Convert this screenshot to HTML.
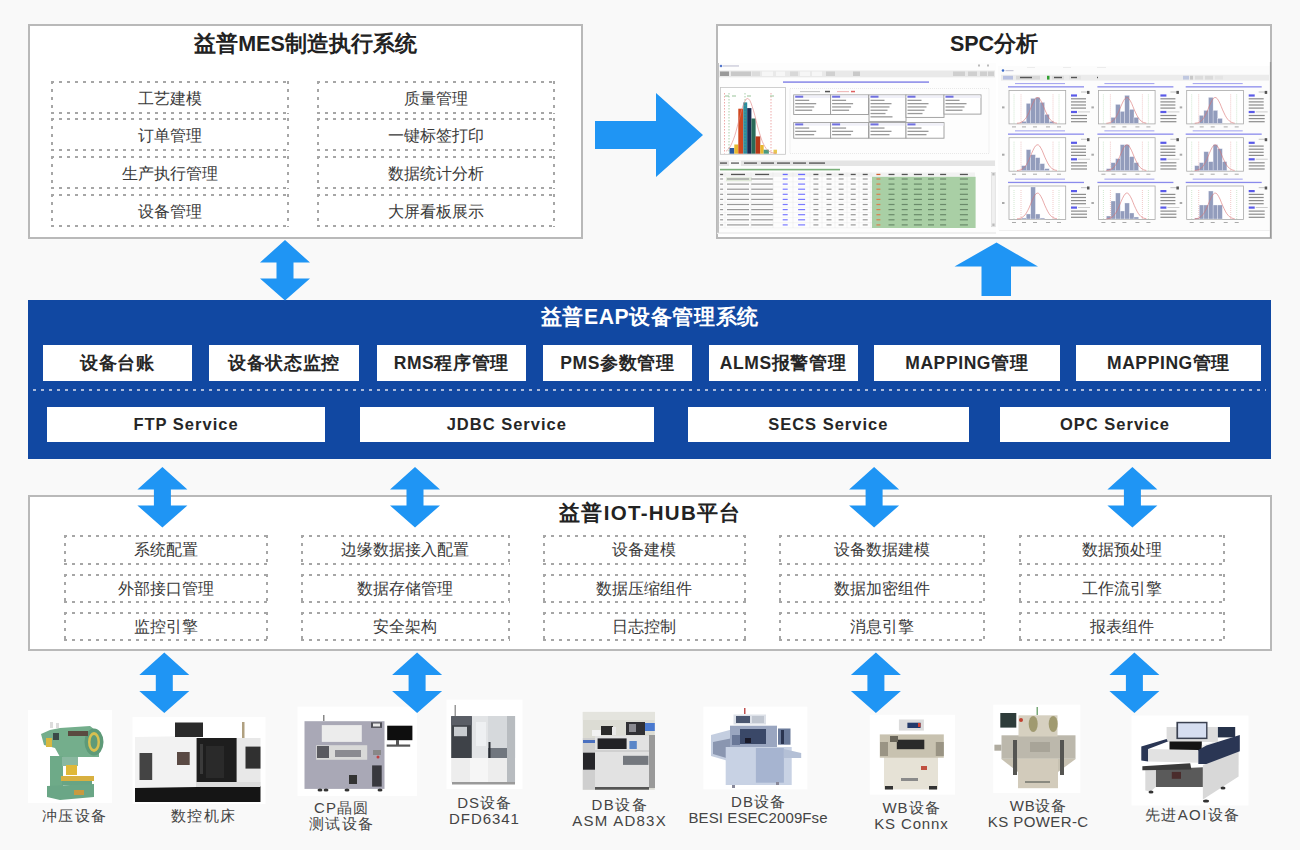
<!DOCTYPE html>
<html><head><meta charset="utf-8"><style>
*{box-sizing:border-box;margin:0;padding:0}
html,body{width:1300px;height:850px;overflow:hidden;background:#f9f9f9;font-family:"Liberation Sans",sans-serif;color:#333}
.a{position:absolute}
.box{position:absolute;background:#fff;border:2px solid #b9b9b9}
.ttl{position:absolute;left:0;right:0;text-align:center;font-weight:bold;color:#222;white-space:nowrap}
.dl{position:absolute;text-align:center;color:#3a3a3a;white-space:nowrap;background:repeating-linear-gradient(90deg,#a6a6a6 0 3px,transparent 3px 8px) left top/100% 2px no-repeat,repeating-linear-gradient(90deg,#a6a6a6 0 3px,transparent 3px 8px) left bottom/100% 2px no-repeat,repeating-linear-gradient(180deg,#a6a6a6 0 3px,transparent 3px 8px) left top/2px 100% no-repeat,repeating-linear-gradient(180deg,#a6a6a6 0 3px,transparent 3px 8px) right top/2px 100% no-repeat;}
.wb{position:absolute;background:#fff;text-align:center;font-weight:bold;color:#262626;white-space:nowrap}
.eap1{top:344.5px;height:36px;font-size:17.5px;line-height:37px;letter-spacing:0.6px}
.eap2{top:406.5px;height:35px;font-size:16.5px;line-height:34px;letter-spacing:1px}
.lbl{position:absolute;text-align:center;color:#444;font-size:15px;line-height:16px;white-space:nowrap}
svg{position:absolute;left:0;top:0;overflow:visible}
</style></head><body>
<div class="box" style="left:28px;top:24px;width:555px;height:215px"><div class="ttl" style="top:5px;font-size:21.5px;line-height:26px">益普MES制造执行系统</div></div>
<div class="dl" style="left:50.5px;top:80.5px;width:238px;height:33px;font-size:16px;line-height:35px">工艺建模</div>
<div class="dl" style="left:316.5px;top:80.5px;width:238px;height:33px;font-size:16px;line-height:35px">质量管理</div>
<div class="dl" style="left:50.5px;top:118.3px;width:238px;height:33px;font-size:16px;line-height:35px">订单管理</div>
<div class="dl" style="left:316.5px;top:118.3px;width:238px;height:33px;font-size:16px;line-height:35px">一键标签打印</div>
<div class="dl" style="left:50.5px;top:156.1px;width:238px;height:33px;font-size:16px;line-height:35px">生产执行管理</div>
<div class="dl" style="left:316.5px;top:156.1px;width:238px;height:33px;font-size:16px;line-height:35px">数据统计分析</div>
<div class="dl" style="left:50.5px;top:193.9px;width:238px;height:33px;font-size:16px;line-height:35px">设备管理</div>
<div class="dl" style="left:316.5px;top:193.9px;width:238px;height:33px;font-size:16px;line-height:35px">大屏看板展示</div>
<div class="box" style="left:716px;top:24px;width:556px;height:215px"><div class="ttl" style="top:5px;font-size:21.5px;line-height:26px">SPC分析</div></div>
<svg width="1300" height="850" style="filter:blur(0.3px)">
<rect x="717.0" y="63.0" width="279.0" height="171.0" fill="#fdfdfd" />
<line x1="718.0" y1="63.0" x2="718.0" y2="233.0" stroke="#9a9a9a" stroke-width="1.2" />
<circle cx="721" cy="66" r="1.3" fill="#5577cc"/>
<rect x="723.0" y="65.3" width="16.0" height="1.3" fill="#c8c8d8" />
<rect x="978.0" y="64.5" width="2.0" height="2.0" fill="#bbb" />
<rect x="987.0" y="64.5" width="2.0" height="2.0" fill="#bbb" />
<rect x="719.0" y="70.5" width="276.0" height="6.8" fill="#e9e9e9" />
<rect x="720.0" y="71.5" width="9.0" height="4.5" fill="#9a9a9a" />
<rect x="731.0" y="71.5" width="20.0" height="4.5" fill="#c8c8c8" />
<rect x="752.0" y="71.5" width="8.0" height="4.5" fill="#dcdcdc" />
<rect x="762.0" y="71.5" width="11.0" height="4.5" fill="#f6f6f6" />
<rect x="776.0" y="71.5" width="9.0" height="4.5" fill="#f6f6f6" />
<rect x="790.0" y="71.5" width="8.0" height="4.5" fill="#d8d8d8" />
<rect x="800.0" y="71.5" width="10.0" height="4.5" fill="#f6f6f6" />
<rect x="812.0" y="71.5" width="10.0" height="4.5" fill="#f6f6f6" />
<rect x="826.0" y="71.5" width="9.0" height="4.5" fill="#d0d0d0" />
<rect x="853.0" y="71.5" width="7.0" height="4.5" fill="#c9c9c9" />
<rect x="953.0" y="71.5" width="12.0" height="4.5" fill="#cfcfcf" />
<rect x="968.0" y="71.5" width="9.0" height="4.5" fill="#cfcfcf" />
<rect x="980.0" y="71.5" width="7.0" height="4.5" fill="#cfcfcf" />
<rect x="988.0" y="71.5" width="6.0" height="4.5" fill="#cfcfcf" />
<rect x="783.0" y="81.3" width="146.0" height="1.6" fill="#8d8de8" />
<rect x="720.5" y="87.5" width="65.0" height="66.8" fill="#fff" stroke="#c4c4c4" stroke-width="0.8"/>
<rect x="729.5" y="148.0" width="4.8" height="5.7" fill="#2a5aa0" />
<rect x="734.3" y="144.5" width="4.0" height="9.2" fill="#e8b830" />
<rect x="738.3" y="108.7" width="5.0" height="45.0" fill="#d04820" />
<rect x="743.3" y="102.4" width="3.9" height="51.3" fill="#2a8aa0" />
<rect x="747.2" y="108.1" width="4.2" height="45.6" fill="#1a2a50" />
<rect x="751.4" y="118.5" width="4.2" height="35.2" fill="#2a6a58" />
<rect x="755.6" y="136.4" width="4.7" height="17.3" fill="#b83818" />
<rect x="760.3" y="145.0" width="3.4" height="8.7" fill="#e8b830" />
<rect x="763.7" y="149.7" width="5.2" height="4.0" fill="#4a9a80" />
<rect x="773.5" y="149.7" width="3.5" height="4.0" fill="#e8c850" />
<line x1="724.5" y1="93.0" x2="724.5" y2="153.5" stroke="#e07070" stroke-width="0.6" stroke-dasharray="1.5,1.5"/>
<line x1="729.0" y1="93.0" x2="729.0" y2="153.5" stroke="#70b070" stroke-width="0.6" stroke-dasharray="1.5,1.5"/>
<line x1="771.0" y1="93.0" x2="771.0" y2="153.5" stroke="#e07070" stroke-width="0.6" stroke-dasharray="1.5,1.5"/>
<line x1="745.0" y1="93.0" x2="745.0" y2="153.5" stroke="#70b070" stroke-width="0.6" stroke-dasharray="1.5,1.5"/>
<polyline points="726.0,151.3 727.2,150.3 728.5,149.0 729.8,147.3 731.0,145.1 732.2,142.5 733.5,139.3 734.8,135.6 736.0,131.5 737.2,126.9 738.5,122.1 739.8,117.2 741.0,112.4 742.2,108.1 743.5,104.3 744.8,101.3 746.0,99.3 747.2,98.5 748.5,98.9 749.8,100.4 751.0,103.0 752.2,106.5 753.5,110.6 754.8,115.3 756.0,120.1 757.2,125.0 758.5,129.7 759.8,134.0 761.0,137.9 762.2,141.3 763.5,144.1 764.8,146.5 766.0,148.4 767.2,149.8 768.5,150.9 769.8,151.7 771.0,152.3 772.2,152.7 773.5,153.0 774.8,153.2 776.0,153.3" fill="none" stroke="#e08080" stroke-width="0.6"/>
<rect x="725.0" y="95.5" width="4.0" height="1.0" fill="#9ac49a" />
<rect x="732.0" y="95.5" width="4.0" height="1.0" fill="#9ac49a" />
<rect x="747.0" y="95.5" width="4.0" height="1.0" fill="#9ac49a" />
<rect x="770.0" y="95.5" width="4.0" height="1.0" fill="#9ac49a" />
<rect x="790.0" y="88.5" width="199.0" height="65.0" fill="none" stroke="#dedede" stroke-width="0.7" stroke-dasharray="1,1"/>
<rect x="800.0" y="91.3" width="20.0" height="0.8" fill="#b0b0b0" />
<rect x="825.0" y="90.8" width="5.0" height="1.5" fill="#555" />
<rect x="837.0" y="91.3" width="12.0" height="0.8" fill="#e8a0a0" />
<rect x="851.0" y="90.8" width="4.0" height="1.5" fill="#e06060" />
<rect x="793.7" y="94.9" width="37.0" height="19.6" fill="#fff" stroke="#9a9a9a" stroke-width="0.9"/>
<rect x="794.2" y="95.4" width="36.0" height="2.6" fill="#f0f0f8" />
<rect x="795.2" y="95.7" width="8.0" height="2.0" fill="#7070e0" />
<rect x="795.2" y="99.7" width="14.0" height="1.3" fill="#9a9a9a" />
<rect x="795.2" y="103.0" width="21.0" height="1.3" fill="#9a9a9a" />
<rect x="795.2" y="106.3" width="19.0" height="1.3" fill="#9a9a9a" />
<rect x="795.2" y="109.6" width="17.0" height="1.3" fill="#9a9a9a" />
<rect x="830.6" y="94.9" width="38.0" height="19.6" fill="#fff" stroke="#9a9a9a" stroke-width="0.9"/>
<rect x="831.1" y="95.4" width="37.0" height="2.6" fill="#f0f0f8" />
<rect x="832.1" y="95.7" width="8.0" height="2.0" fill="#7070e0" />
<rect x="832.1" y="99.7" width="14.0" height="1.3" fill="#9a9a9a" />
<rect x="832.1" y="103.0" width="21.0" height="1.3" fill="#9a9a9a" />
<rect x="832.1" y="106.3" width="19.0" height="1.3" fill="#9a9a9a" />
<rect x="832.1" y="109.6" width="17.0" height="1.3" fill="#9a9a9a" />
<rect x="869.0" y="94.9" width="37.0" height="26.5" fill="#fff" stroke="#9a9a9a" stroke-width="0.9"/>
<rect x="869.5" y="95.4" width="36.0" height="2.6" fill="#f0f0f8" />
<rect x="870.5" y="95.7" width="8.0" height="2.0" fill="#7070e0" />
<rect x="870.5" y="99.7" width="14.0" height="1.3" fill="#9a9a9a" />
<rect x="870.5" y="103.0" width="21.0" height="1.3" fill="#9a9a9a" />
<rect x="870.5" y="106.3" width="19.0" height="1.3" fill="#9a9a9a" />
<rect x="870.5" y="109.6" width="17.0" height="1.3" fill="#9a9a9a" />
<rect x="870.5" y="112.9" width="15.0" height="1.3" fill="#9a9a9a" />
<rect x="870.5" y="116.2" width="22.0" height="1.3" fill="#9a9a9a" />
<rect x="906.0" y="94.9" width="38.0" height="22.5" fill="#fff" stroke="#9a9a9a" stroke-width="0.9"/>
<rect x="906.5" y="95.4" width="37.0" height="2.6" fill="#f0f0f8" />
<rect x="907.5" y="95.7" width="8.0" height="2.0" fill="#7070e0" />
<rect x="907.5" y="99.7" width="14.0" height="1.3" fill="#9a9a9a" />
<rect x="907.5" y="103.0" width="21.0" height="1.3" fill="#9a9a9a" />
<rect x="907.5" y="106.3" width="19.0" height="1.3" fill="#9a9a9a" />
<rect x="907.5" y="109.6" width="17.0" height="1.3" fill="#9a9a9a" />
<rect x="907.5" y="112.9" width="15.0" height="1.3" fill="#9a9a9a" />
<rect x="944.0" y="94.9" width="37.0" height="19.2" fill="#fff" stroke="#9a9a9a" stroke-width="0.9"/>
<rect x="944.5" y="95.4" width="36.0" height="2.6" fill="#f0f0f8" />
<rect x="945.5" y="95.7" width="8.0" height="2.0" fill="#7070e0" />
<rect x="945.5" y="99.7" width="14.0" height="1.3" fill="#9a9a9a" />
<rect x="945.5" y="103.0" width="21.0" height="1.3" fill="#9a9a9a" />
<rect x="945.5" y="106.3" width="19.0" height="1.3" fill="#9a9a9a" />
<rect x="945.5" y="109.6" width="17.0" height="1.3" fill="#9a9a9a" />
<rect x="793.7" y="122.6" width="37.0" height="15.6" fill="#fff" stroke="#9a9a9a" stroke-width="0.9"/>
<rect x="794.2" y="123.1" width="36.0" height="2.6" fill="#f0f0f8" />
<rect x="795.2" y="123.4" width="8.0" height="2.0" fill="#7070e0" />
<rect x="795.2" y="127.4" width="14.0" height="1.3" fill="#9a9a9a" />
<rect x="795.2" y="130.7" width="21.0" height="1.3" fill="#9a9a9a" />
<rect x="795.2" y="134.0" width="19.0" height="1.3" fill="#9a9a9a" />
<rect x="830.6" y="122.6" width="38.0" height="15.6" fill="#fff" stroke="#9a9a9a" stroke-width="0.9"/>
<rect x="831.1" y="123.1" width="37.0" height="2.6" fill="#f0f0f8" />
<rect x="832.1" y="123.4" width="8.0" height="2.0" fill="#7070e0" />
<rect x="832.1" y="127.4" width="14.0" height="1.3" fill="#9a9a9a" />
<rect x="832.1" y="130.7" width="21.0" height="1.3" fill="#9a9a9a" />
<rect x="832.1" y="134.0" width="19.0" height="1.3" fill="#9a9a9a" />
<rect x="869.0" y="122.6" width="37.0" height="15.6" fill="#fff" stroke="#9a9a9a" stroke-width="0.9"/>
<rect x="869.5" y="123.1" width="36.0" height="2.6" fill="#f0f0f8" />
<rect x="870.5" y="123.4" width="8.0" height="2.0" fill="#7070e0" />
<rect x="870.5" y="127.4" width="14.0" height="1.3" fill="#9a9a9a" />
<rect x="870.5" y="130.7" width="21.0" height="1.3" fill="#9a9a9a" />
<rect x="870.5" y="134.0" width="19.0" height="1.3" fill="#9a9a9a" />
<rect x="906.0" y="122.6" width="38.0" height="15.6" fill="#fff" stroke="#9a9a9a" stroke-width="0.9"/>
<rect x="906.5" y="123.1" width="37.0" height="2.6" fill="#f0f0f8" />
<rect x="907.5" y="123.4" width="8.0" height="2.0" fill="#7070e0" />
<rect x="907.5" y="127.4" width="14.0" height="1.3" fill="#9a9a9a" />
<rect x="907.5" y="130.7" width="21.0" height="1.3" fill="#9a9a9a" />
<rect x="907.5" y="134.0" width="19.0" height="1.3" fill="#9a9a9a" />
<rect x="719.0" y="160.5" width="276.0" height="5.5" fill="#e4e4e4" />
<rect x="720.0" y="162.3" width="7.0" height="1.6" fill="#6a6a6a" />
<rect x="730.0" y="162.3" width="11.0" height="1.6" fill="#6a6a6a" />
<rect x="744.0" y="162.3" width="13.0" height="1.6" fill="#6a6a6a" />
<rect x="761.0" y="162.3" width="13.0" height="1.6" fill="#6a6a6a" />
<rect x="777.0" y="162.3" width="13.0" height="1.6" fill="#6a6a6a" />
<rect x="793.0" y="162.3" width="13.0" height="1.6" fill="#6a6a6a" />
<rect x="809.0" y="162.3" width="16.0" height="1.6" fill="#6a6a6a" />
<rect x="729.0" y="160.5" width="12.0" height="5.5" fill="#f8f8f8" />
<rect x="731.0" y="162.3" width="8.0" height="1.6" fill="#777" />
<rect x="720.0" y="168.8" width="120.0" height="1.6" fill="#7ab07a" />
<rect x="719.0" y="172.5" width="256.0" height="4.3" fill="#f2f2f2" />
<rect x="720.1" y="173.8" width="3.0" height="1.3" fill="#555" />
<rect x="731.0" y="173.8" width="14.0" height="1.3" fill="#555" />
<rect x="755.1" y="173.8" width="14.0" height="1.3" fill="#555" />
<rect x="782.7" y="173.8" width="5.0" height="1.3" fill="#6a6aff" />
<rect x="798.1" y="173.8" width="7.0" height="1.3" fill="#6a6aff" />
<rect x="813.4" y="173.8" width="5.0" height="1.3" fill="#555" />
<rect x="826.5" y="173.8" width="5.0" height="1.3" fill="#555" />
<rect x="838.6" y="173.8" width="5.0" height="1.3" fill="#555" />
<rect x="850.7" y="173.8" width="5.0" height="1.3" fill="#555" />
<rect x="862.7" y="173.8" width="5.0" height="1.3" fill="#555" />
<rect x="876.4" y="173.8" width="4.0" height="1.3" fill="#d06030" />
<rect x="888.5" y="173.8" width="6.0" height="1.3" fill="#555" />
<rect x="901.7" y="173.8" width="6.0" height="1.3" fill="#555" />
<rect x="913.9" y="173.8" width="8.0" height="1.3" fill="#555" />
<rect x="928.0" y="173.8" width="6.0" height="1.3" fill="#555" />
<rect x="940.1" y="173.8" width="6.0" height="1.3" fill="#555" />
<rect x="959.9" y="173.8" width="8.0" height="1.3" fill="#555" />
<rect x="872.0" y="176.8" width="103.6" height="51.2" fill="#a9cfa5" />
<rect x="726.0" y="177.3" width="26.0" height="4.0" fill="#dfe9d8" />
<rect x="720.1" y="178.4" width="3.0" height="1.2" fill="#9a9a9a" />
<rect x="727.0" y="178.4" width="22.0" height="1.2" fill="#9a9a9a" />
<rect x="751.1" y="178.4" width="22.0" height="1.2" fill="#9a9a9a" />
<rect x="782.7" y="178.4" width="5.0" height="1.2" fill="#7a7aff" />
<rect x="798.1" y="178.4" width="7.0" height="1.2" fill="#7a7aff" />
<rect x="813.4" y="178.4" width="5.0" height="1.2" fill="#9a9a9a" />
<rect x="826.5" y="178.4" width="5.0" height="1.2" fill="#9a9a9a" />
<rect x="838.6" y="178.4" width="5.0" height="1.2" fill="#9a9a9a" />
<rect x="850.7" y="178.4" width="5.0" height="1.2" fill="#9a9a9a" />
<rect x="862.7" y="178.4" width="5.0" height="1.2" fill="#9a9a9a" />
<rect x="876.4" y="178.4" width="4.0" height="1.2" fill="#d88050" />
<rect x="888.5" y="178.4" width="6.0" height="1.2" fill="#6a8a6a" />
<rect x="901.7" y="178.4" width="6.0" height="1.2" fill="#6a8a6a" />
<rect x="913.9" y="178.4" width="8.0" height="1.2" fill="#6a8a6a" />
<rect x="928.0" y="178.4" width="6.0" height="1.2" fill="#6a8a6a" />
<rect x="940.1" y="178.4" width="6.0" height="1.2" fill="#6a8a6a" />
<rect x="959.9" y="178.4" width="8.0" height="1.2" fill="#6a8a6a" />
<line x1="719.0" y1="181.9" x2="872.0" y2="181.9" stroke="#ececec" stroke-width="0.4" />
<rect x="720.1" y="183.5" width="3.0" height="1.2" fill="#9a9a9a" />
<rect x="727.0" y="183.5" width="22.0" height="1.2" fill="#9a9a9a" />
<rect x="751.1" y="183.5" width="22.0" height="1.2" fill="#9a9a9a" />
<rect x="782.7" y="183.5" width="5.0" height="1.2" fill="#7a7aff" />
<rect x="798.1" y="183.5" width="7.0" height="1.2" fill="#7a7aff" />
<rect x="813.4" y="183.5" width="5.0" height="1.2" fill="#9a9a9a" />
<rect x="826.5" y="183.5" width="5.0" height="1.2" fill="#9a9a9a" />
<rect x="838.6" y="183.5" width="5.0" height="1.2" fill="#9a9a9a" />
<rect x="850.7" y="183.5" width="5.0" height="1.2" fill="#9a9a9a" />
<rect x="862.7" y="183.5" width="5.0" height="1.2" fill="#9a9a9a" />
<rect x="876.4" y="183.5" width="4.0" height="1.2" fill="#d88050" />
<rect x="888.5" y="183.5" width="6.0" height="1.2" fill="#6a8a6a" />
<rect x="901.7" y="183.5" width="6.0" height="1.2" fill="#6a8a6a" />
<rect x="913.9" y="183.5" width="8.0" height="1.2" fill="#6a8a6a" />
<rect x="928.0" y="183.5" width="6.0" height="1.2" fill="#6a8a6a" />
<rect x="940.1" y="183.5" width="6.0" height="1.2" fill="#6a8a6a" />
<rect x="959.9" y="183.5" width="8.0" height="1.2" fill="#6a8a6a" />
<line x1="719.0" y1="187.0" x2="872.0" y2="187.0" stroke="#ececec" stroke-width="0.4" />
<rect x="720.1" y="188.6" width="3.0" height="1.2" fill="#9a9a9a" />
<rect x="727.0" y="188.6" width="22.0" height="1.2" fill="#9a9a9a" />
<rect x="751.1" y="188.6" width="22.0" height="1.2" fill="#9a9a9a" />
<rect x="782.7" y="188.6" width="5.0" height="1.2" fill="#7a7aff" />
<rect x="798.1" y="188.6" width="7.0" height="1.2" fill="#7a7aff" />
<rect x="813.4" y="188.6" width="5.0" height="1.2" fill="#9a9a9a" />
<rect x="826.5" y="188.6" width="5.0" height="1.2" fill="#9a9a9a" />
<rect x="838.6" y="188.6" width="5.0" height="1.2" fill="#9a9a9a" />
<rect x="850.7" y="188.6" width="5.0" height="1.2" fill="#9a9a9a" />
<rect x="862.7" y="188.6" width="5.0" height="1.2" fill="#9a9a9a" />
<rect x="876.4" y="188.6" width="4.0" height="1.2" fill="#d88050" />
<rect x="888.5" y="188.6" width="6.0" height="1.2" fill="#6a8a6a" />
<rect x="901.7" y="188.6" width="6.0" height="1.2" fill="#6a8a6a" />
<rect x="913.9" y="188.6" width="8.0" height="1.2" fill="#6a8a6a" />
<rect x="928.0" y="188.6" width="6.0" height="1.2" fill="#6a8a6a" />
<rect x="940.1" y="188.6" width="6.0" height="1.2" fill="#6a8a6a" />
<rect x="959.9" y="188.6" width="8.0" height="1.2" fill="#6a8a6a" />
<line x1="719.0" y1="192.1" x2="872.0" y2="192.1" stroke="#ececec" stroke-width="0.4" />
<rect x="720.1" y="193.7" width="3.0" height="1.2" fill="#9a9a9a" />
<rect x="727.0" y="193.7" width="22.0" height="1.2" fill="#9a9a9a" />
<rect x="751.1" y="193.7" width="22.0" height="1.2" fill="#9a9a9a" />
<rect x="782.7" y="193.7" width="5.0" height="1.2" fill="#7a7aff" />
<rect x="798.1" y="193.7" width="7.0" height="1.2" fill="#7a7aff" />
<rect x="813.4" y="193.7" width="5.0" height="1.2" fill="#9a9a9a" />
<rect x="826.5" y="193.7" width="5.0" height="1.2" fill="#9a9a9a" />
<rect x="838.6" y="193.7" width="5.0" height="1.2" fill="#9a9a9a" />
<rect x="850.7" y="193.7" width="5.0" height="1.2" fill="#9a9a9a" />
<rect x="862.7" y="193.7" width="5.0" height="1.2" fill="#9a9a9a" />
<rect x="876.4" y="193.7" width="4.0" height="1.2" fill="#d88050" />
<rect x="888.5" y="193.7" width="6.0" height="1.2" fill="#6a8a6a" />
<rect x="901.7" y="193.7" width="6.0" height="1.2" fill="#6a8a6a" />
<rect x="913.9" y="193.7" width="8.0" height="1.2" fill="#6a8a6a" />
<rect x="928.0" y="193.7" width="6.0" height="1.2" fill="#6a8a6a" />
<rect x="940.1" y="193.7" width="6.0" height="1.2" fill="#6a8a6a" />
<rect x="959.9" y="193.7" width="8.0" height="1.2" fill="#6a8a6a" />
<line x1="719.0" y1="197.2" x2="872.0" y2="197.2" stroke="#ececec" stroke-width="0.4" />
<rect x="720.1" y="198.8" width="3.0" height="1.2" fill="#9a9a9a" />
<rect x="727.0" y="198.8" width="22.0" height="1.2" fill="#9a9a9a" />
<rect x="751.1" y="198.8" width="22.0" height="1.2" fill="#9a9a9a" />
<rect x="782.7" y="198.8" width="5.0" height="1.2" fill="#7a7aff" />
<rect x="798.1" y="198.8" width="7.0" height="1.2" fill="#7a7aff" />
<rect x="813.4" y="198.8" width="5.0" height="1.2" fill="#9a9a9a" />
<rect x="826.5" y="198.8" width="5.0" height="1.2" fill="#9a9a9a" />
<rect x="838.6" y="198.8" width="5.0" height="1.2" fill="#9a9a9a" />
<rect x="850.7" y="198.8" width="5.0" height="1.2" fill="#9a9a9a" />
<rect x="862.7" y="198.8" width="5.0" height="1.2" fill="#9a9a9a" />
<rect x="876.4" y="198.8" width="4.0" height="1.2" fill="#d88050" />
<rect x="888.5" y="198.8" width="6.0" height="1.2" fill="#6a8a6a" />
<rect x="901.7" y="198.8" width="6.0" height="1.2" fill="#6a8a6a" />
<rect x="913.9" y="198.8" width="8.0" height="1.2" fill="#6a8a6a" />
<rect x="928.0" y="198.8" width="6.0" height="1.2" fill="#6a8a6a" />
<rect x="940.1" y="198.8" width="6.0" height="1.2" fill="#6a8a6a" />
<rect x="959.9" y="198.8" width="8.0" height="1.2" fill="#6a8a6a" />
<line x1="719.0" y1="202.3" x2="872.0" y2="202.3" stroke="#ececec" stroke-width="0.4" />
<rect x="720.1" y="203.9" width="3.0" height="1.2" fill="#9a9a9a" />
<rect x="727.0" y="203.9" width="22.0" height="1.2" fill="#9a9a9a" />
<rect x="751.1" y="203.9" width="22.0" height="1.2" fill="#9a9a9a" />
<rect x="782.7" y="203.9" width="5.0" height="1.2" fill="#7a7aff" />
<rect x="798.1" y="203.9" width="7.0" height="1.2" fill="#7a7aff" />
<rect x="813.4" y="203.9" width="5.0" height="1.2" fill="#9a9a9a" />
<rect x="826.5" y="203.9" width="5.0" height="1.2" fill="#9a9a9a" />
<rect x="838.6" y="203.9" width="5.0" height="1.2" fill="#9a9a9a" />
<rect x="850.7" y="203.9" width="5.0" height="1.2" fill="#9a9a9a" />
<rect x="862.7" y="203.9" width="5.0" height="1.2" fill="#9a9a9a" />
<rect x="876.4" y="203.9" width="4.0" height="1.2" fill="#d88050" />
<rect x="888.5" y="203.9" width="6.0" height="1.2" fill="#6a8a6a" />
<rect x="901.7" y="203.9" width="6.0" height="1.2" fill="#6a8a6a" />
<rect x="913.9" y="203.9" width="8.0" height="1.2" fill="#6a8a6a" />
<rect x="928.0" y="203.9" width="6.0" height="1.2" fill="#6a8a6a" />
<rect x="940.1" y="203.9" width="6.0" height="1.2" fill="#6a8a6a" />
<rect x="959.9" y="203.9" width="8.0" height="1.2" fill="#6a8a6a" />
<line x1="719.0" y1="207.4" x2="872.0" y2="207.4" stroke="#ececec" stroke-width="0.4" />
<rect x="720.1" y="209.0" width="3.0" height="1.2" fill="#9a9a9a" />
<rect x="727.0" y="209.0" width="22.0" height="1.2" fill="#9a9a9a" />
<rect x="751.1" y="209.0" width="22.0" height="1.2" fill="#9a9a9a" />
<rect x="782.7" y="209.0" width="5.0" height="1.2" fill="#7a7aff" />
<rect x="798.1" y="209.0" width="7.0" height="1.2" fill="#7a7aff" />
<rect x="813.4" y="209.0" width="5.0" height="1.2" fill="#9a9a9a" />
<rect x="826.5" y="209.0" width="5.0" height="1.2" fill="#9a9a9a" />
<rect x="838.6" y="209.0" width="5.0" height="1.2" fill="#9a9a9a" />
<rect x="850.7" y="209.0" width="5.0" height="1.2" fill="#9a9a9a" />
<rect x="862.7" y="209.0" width="5.0" height="1.2" fill="#9a9a9a" />
<rect x="876.4" y="209.0" width="4.0" height="1.2" fill="#d88050" />
<rect x="888.5" y="209.0" width="6.0" height="1.2" fill="#6a8a6a" />
<rect x="901.7" y="209.0" width="6.0" height="1.2" fill="#6a8a6a" />
<rect x="913.9" y="209.0" width="8.0" height="1.2" fill="#6a8a6a" />
<rect x="928.0" y="209.0" width="6.0" height="1.2" fill="#6a8a6a" />
<rect x="940.1" y="209.0" width="6.0" height="1.2" fill="#6a8a6a" />
<rect x="959.9" y="209.0" width="8.0" height="1.2" fill="#6a8a6a" />
<line x1="719.0" y1="212.5" x2="872.0" y2="212.5" stroke="#ececec" stroke-width="0.4" />
<rect x="720.1" y="214.1" width="3.0" height="1.2" fill="#9a9a9a" />
<rect x="727.0" y="214.1" width="22.0" height="1.2" fill="#9a9a9a" />
<rect x="751.1" y="214.1" width="22.0" height="1.2" fill="#9a9a9a" />
<rect x="782.7" y="214.1" width="5.0" height="1.2" fill="#7a7aff" />
<rect x="798.1" y="214.1" width="7.0" height="1.2" fill="#7a7aff" />
<rect x="813.4" y="214.1" width="5.0" height="1.2" fill="#9a9a9a" />
<rect x="826.5" y="214.1" width="5.0" height="1.2" fill="#9a9a9a" />
<rect x="838.6" y="214.1" width="5.0" height="1.2" fill="#9a9a9a" />
<rect x="850.7" y="214.1" width="5.0" height="1.2" fill="#9a9a9a" />
<rect x="862.7" y="214.1" width="5.0" height="1.2" fill="#9a9a9a" />
<rect x="876.4" y="214.1" width="4.0" height="1.2" fill="#d88050" />
<rect x="888.5" y="214.1" width="6.0" height="1.2" fill="#6a8a6a" />
<rect x="901.7" y="214.1" width="6.0" height="1.2" fill="#6a8a6a" />
<rect x="913.9" y="214.1" width="8.0" height="1.2" fill="#6a8a6a" />
<rect x="928.0" y="214.1" width="6.0" height="1.2" fill="#6a8a6a" />
<rect x="940.1" y="214.1" width="6.0" height="1.2" fill="#6a8a6a" />
<rect x="959.9" y="214.1" width="8.0" height="1.2" fill="#6a8a6a" />
<line x1="719.0" y1="217.6" x2="872.0" y2="217.6" stroke="#ececec" stroke-width="0.4" />
<rect x="720.1" y="219.2" width="3.0" height="1.2" fill="#9a9a9a" />
<rect x="727.0" y="219.2" width="22.0" height="1.2" fill="#9a9a9a" />
<rect x="751.1" y="219.2" width="22.0" height="1.2" fill="#9a9a9a" />
<rect x="782.7" y="219.2" width="5.0" height="1.2" fill="#7a7aff" />
<rect x="798.1" y="219.2" width="7.0" height="1.2" fill="#7a7aff" />
<rect x="813.4" y="219.2" width="5.0" height="1.2" fill="#9a9a9a" />
<rect x="826.5" y="219.2" width="5.0" height="1.2" fill="#9a9a9a" />
<rect x="838.6" y="219.2" width="5.0" height="1.2" fill="#9a9a9a" />
<rect x="850.7" y="219.2" width="5.0" height="1.2" fill="#9a9a9a" />
<rect x="862.7" y="219.2" width="5.0" height="1.2" fill="#9a9a9a" />
<rect x="876.4" y="219.2" width="4.0" height="1.2" fill="#d88050" />
<rect x="888.5" y="219.2" width="6.0" height="1.2" fill="#6a8a6a" />
<rect x="901.7" y="219.2" width="6.0" height="1.2" fill="#6a8a6a" />
<rect x="913.9" y="219.2" width="8.0" height="1.2" fill="#6a8a6a" />
<rect x="928.0" y="219.2" width="6.0" height="1.2" fill="#6a8a6a" />
<rect x="940.1" y="219.2" width="6.0" height="1.2" fill="#6a8a6a" />
<rect x="959.9" y="219.2" width="8.0" height="1.2" fill="#6a8a6a" />
<line x1="719.0" y1="222.7" x2="872.0" y2="222.7" stroke="#ececec" stroke-width="0.4" />
<rect x="720.1" y="224.3" width="3.0" height="1.2" fill="#9a9a9a" />
<rect x="727.0" y="224.3" width="22.0" height="1.2" fill="#9a9a9a" />
<rect x="751.1" y="224.3" width="22.0" height="1.2" fill="#9a9a9a" />
<rect x="782.7" y="224.3" width="5.0" height="1.2" fill="#7a7aff" />
<rect x="798.1" y="224.3" width="7.0" height="1.2" fill="#7a7aff" />
<rect x="813.4" y="224.3" width="5.0" height="1.2" fill="#9a9a9a" />
<rect x="826.5" y="224.3" width="5.0" height="1.2" fill="#9a9a9a" />
<rect x="838.6" y="224.3" width="5.0" height="1.2" fill="#9a9a9a" />
<rect x="850.7" y="224.3" width="5.0" height="1.2" fill="#9a9a9a" />
<rect x="862.7" y="224.3" width="5.0" height="1.2" fill="#9a9a9a" />
<rect x="876.4" y="224.3" width="4.0" height="1.2" fill="#d88050" />
<rect x="888.5" y="224.3" width="6.0" height="1.2" fill="#6a8a6a" />
<rect x="901.7" y="224.3" width="6.0" height="1.2" fill="#6a8a6a" />
<rect x="913.9" y="224.3" width="8.0" height="1.2" fill="#6a8a6a" />
<rect x="928.0" y="224.3" width="6.0" height="1.2" fill="#6a8a6a" />
<rect x="940.1" y="224.3" width="6.0" height="1.2" fill="#6a8a6a" />
<rect x="959.9" y="224.3" width="8.0" height="1.2" fill="#6a8a6a" />
<line x1="719.0" y1="227.8" x2="872.0" y2="227.8" stroke="#ececec" stroke-width="0.4" />
<line x1="725.0" y1="172.5" x2="725.0" y2="228.0" stroke="#e6e6e6" stroke-width="0.4" />
<line x1="751.0" y1="172.5" x2="751.0" y2="228.0" stroke="#e6e6e6" stroke-width="0.4" />
<line x1="773.0" y1="172.5" x2="773.0" y2="228.0" stroke="#e6e6e6" stroke-width="0.4" />
<line x1="793.0" y1="172.5" x2="793.0" y2="228.0" stroke="#e6e6e6" stroke-width="0.4" />
<line x1="810.0" y1="172.5" x2="810.0" y2="228.0" stroke="#e6e6e6" stroke-width="0.4" />
<line x1="822.0" y1="172.5" x2="822.0" y2="228.0" stroke="#e6e6e6" stroke-width="0.4" />
<line x1="835.0" y1="172.5" x2="835.0" y2="228.0" stroke="#e6e6e6" stroke-width="0.4" />
<line x1="847.0" y1="172.5" x2="847.0" y2="228.0" stroke="#e6e6e6" stroke-width="0.4" />
<line x1="859.0" y1="172.5" x2="859.0" y2="228.0" stroke="#e6e6e6" stroke-width="0.4" />
<line x1="871.0" y1="172.5" x2="871.0" y2="228.0" stroke="#e6e6e6" stroke-width="0.4" />
<rect x="991.7" y="172.4" width="3.5" height="54.4" fill="#f0f0f0" stroke="#cfcfcf" stroke-width="0.5"/>
<rect x="992.3" y="173.0" width="2.3" height="2.5" fill="#bbb" />
<rect x="992.3" y="223.5" width="2.3" height="2.5" fill="#bbb" />
<line x1="717.0" y1="233.0" x2="996.0" y2="233.0" stroke="#dcdcdc" stroke-width="0.8" />
<rect x="998.0" y="66.0" width="272.0" height="164.0" fill="#fcfcfc" />
<line x1="1270.5" y1="62.0" x2="1270.5" y2="238.0" stroke="#9a9a9a" stroke-width="1.2" />
<circle cx="1003" cy="70.5" r="1.3" fill="#3a6ac8"/>
<rect x="1005.5" y="70.0" width="8.0" height="1.2" fill="#c8c8d8" />
<rect x="1027.0" y="67.0" width="8.0" height="0.8" fill="#e8e8e8" />
<rect x="1063.0" y="67.0" width="8.0" height="0.8" fill="#e8e8e8" />
<rect x="1097.0" y="67.0" width="9.0" height="0.8" fill="#e8e8e8" />
<rect x="1001.0" y="74.8" width="268.0" height="5.8" fill="#ececec" />
<rect x="1003.0" y="75.8" width="10.0" height="3.8" fill="#b8c0e0" />
<rect x="1016.0" y="75.8" width="24.0" height="3.8" fill="#d8d8d8" />
<rect x="1047.0" y="75.8" width="2.5" height="3.8" fill="#30a030" />
<rect x="1052.0" y="75.8" width="12.0" height="3.8" fill="#dedede" />
<rect x="1069.0" y="75.8" width="12.0" height="3.8" fill="#e4e4e4" />
<rect x="1183.0" y="75.8" width="6.0" height="3.8" fill="#c0c8e0" />
<rect x="1190.0" y="75.8" width="3.0" height="3.8" fill="#c8c8c8" />
<rect x="1195.0" y="75.8" width="8.0" height="3.8" fill="#dcdcdc" />
<rect x="1205.0" y="75.8" width="8.0" height="3.8" fill="#dadada" />
<rect x="1215.0" y="75.8" width="8.0" height="3.8" fill="#e4e4e4" />
<rect x="1020.0" y="76.8" width="12.0" height="1.4" fill="#555" />
<rect x="1054.0" y="76.8" width="8.0" height="1.4" fill="#555" />
<rect x="1071.0" y="76.8" width="6.0" height="1.4" fill="#555" />
<rect x="1097.0" y="76.8" width="1.0" height="1.4" fill="#555" />
<rect x="1015.0" y="83.0" width="50.0" height="1.1" fill="#a8a8f0" />
<rect x="1008.0" y="86.2" width="76.0" height="1.3" fill="#8a8aec" />
<rect x="1009.0" y="90.4" width="56.7" height="33.5" fill="#fff" stroke="#a8a8a8" stroke-width="0.8"/>
<rect x="1021.6" y="121.4" width="4.6" height="2.0" fill="#929cbc" stroke="#f0f0f8" stroke-width="0.35"/>
<rect x="1026.2" y="103.4" width="4.6" height="20.0" fill="#929cbc" stroke="#f0f0f8" stroke-width="0.35"/>
<rect x="1030.8" y="98.4" width="4.6" height="25.0" fill="#929cbc" stroke="#f0f0f8" stroke-width="0.35"/>
<rect x="1035.4" y="97.4" width="4.6" height="26.0" fill="#929cbc" stroke="#f0f0f8" stroke-width="0.35"/>
<rect x="1040.0" y="102.4" width="4.6" height="21.0" fill="#929cbc" stroke="#f0f0f8" stroke-width="0.35"/>
<rect x="1044.6" y="114.4" width="4.6" height="9.0" fill="#929cbc" stroke="#f0f0f8" stroke-width="0.35"/>
<rect x="1049.2" y="121.4" width="4.6" height="2.0" fill="#929cbc" stroke="#f0f0f8" stroke-width="0.35"/>
<line x1="1014.0" y1="94.4" x2="1014.0" y2="123.4" stroke="#a0d0a0" stroke-width="0.5" stroke-dasharray="1,1"/>
<line x1="1021.0" y1="94.4" x2="1021.0" y2="123.4" stroke="#e09090" stroke-width="0.5" stroke-dasharray="1,1"/>
<line x1="1053.0" y1="94.4" x2="1053.0" y2="123.4" stroke="#e09090" stroke-width="0.5" stroke-dasharray="1,1"/>
<line x1="1059.0" y1="94.4" x2="1059.0" y2="123.4" stroke="#a0d0a0" stroke-width="0.5" stroke-dasharray="1,1"/>
<polyline points="1017.0,123.2 1018.3,123.1 1019.7,122.8 1021.0,122.4 1022.3,121.7 1023.6,120.7 1025.0,119.3 1026.3,117.5 1027.6,115.2 1029.0,112.4 1030.3,109.3 1031.6,106.1 1033.0,103.0 1034.3,100.4 1035.6,98.5 1037.0,97.5 1038.3,97.6 1039.6,98.7 1040.9,100.8 1042.3,103.5 1043.6,106.7 1044.9,109.9 1046.3,112.9 1047.6,115.6 1048.9,117.8 1050.2,119.6 1051.6,120.9 1052.9,121.8 1054.2,122.5 1055.6,122.9 1056.9,123.1" fill="none" stroke="#d87070" stroke-width="0.6"/>
<rect x="1012.0" y="126.4" width="4.0" height="1.0" fill="#aaa" />
<rect x="1022.0" y="126.4" width="4.0" height="1.0" fill="#aaa" />
<rect x="1033.0" y="126.4" width="4.0" height="1.0" fill="#aaa" />
<rect x="1046.0" y="126.4" width="4.0" height="1.0" fill="#aaa" />
<rect x="1057.0" y="126.4" width="4.0" height="1.0" fill="#aaa" />
<rect x="1081.0" y="91.4" width="8.0" height="1.2" fill="#ccc" />
<rect x="1087.0" y="90.9" width="2.5" height="3.0" fill="#555" />
<rect x="1071.0" y="94.4" width="6.0" height="2.2" fill="#5a5ae8" />
<rect x="1071.0" y="98.2" width="15.0" height="1.2" fill="#8c8c8c" />
<rect x="1071.0" y="101.3" width="15.0" height="1.2" fill="#8c8c8c" />
<rect x="1071.0" y="104.4" width="15.0" height="1.2" fill="#8c8c8c" />
<rect x="1071.0" y="107.5" width="15.0" height="1.2" fill="#8c8c8c" />
<rect x="1071.0" y="110.9" width="6.0" height="2.2" fill="#5a5ae8" />
<rect x="1078.0" y="111.4" width="12.0" height="1.0" fill="#ccc" />
<rect x="1071.0" y="114.9" width="16.0" height="1.2" fill="#8c8c8c" />
<rect x="1071.0" y="118.0" width="16.0" height="1.2" fill="#8c8c8c" />
<rect x="1071.0" y="121.1" width="16.0" height="1.2" fill="#8c8c8c" />
<rect x="1002.0" y="106.4" width="2.5" height="2.0" fill="#aaa" />
<rect x="1104.4" y="83.0" width="50.0" height="1.1" fill="#a8a8f0" />
<rect x="1097.4" y="86.2" width="76.0" height="1.3" fill="#8a8aec" />
<rect x="1098.4" y="90.4" width="56.7" height="33.5" fill="#fff" stroke="#a8a8a8" stroke-width="0.8"/>
<rect x="1111.0" y="117.4" width="4.6" height="6.0" fill="#929cbc" stroke="#f0f0f8" stroke-width="0.35"/>
<rect x="1115.6" y="104.4" width="4.6" height="19.0" fill="#929cbc" stroke="#f0f0f8" stroke-width="0.35"/>
<rect x="1120.2" y="111.4" width="4.6" height="12.0" fill="#929cbc" stroke="#f0f0f8" stroke-width="0.35"/>
<rect x="1124.8" y="95.4" width="4.6" height="28.0" fill="#929cbc" stroke="#f0f0f8" stroke-width="0.35"/>
<rect x="1129.4" y="109.4" width="4.6" height="14.0" fill="#929cbc" stroke="#f0f0f8" stroke-width="0.35"/>
<rect x="1134.0" y="117.4" width="4.6" height="6.0" fill="#929cbc" stroke="#f0f0f8" stroke-width="0.35"/>
<line x1="1103.4" y1="94.4" x2="1103.4" y2="123.4" stroke="#a0d0a0" stroke-width="0.5" stroke-dasharray="1,1"/>
<line x1="1110.4" y1="94.4" x2="1110.4" y2="123.4" stroke="#e09090" stroke-width="0.5" stroke-dasharray="1,1"/>
<line x1="1142.4" y1="94.4" x2="1142.4" y2="123.4" stroke="#e09090" stroke-width="0.5" stroke-dasharray="1,1"/>
<line x1="1148.4" y1="94.4" x2="1148.4" y2="123.4" stroke="#a0d0a0" stroke-width="0.5" stroke-dasharray="1,1"/>
<polyline points="1106.4,123.2 1107.7,123.1 1109.1,122.8 1110.4,122.4 1111.7,121.7 1113.1,120.7 1114.4,119.3 1115.7,117.5 1117.0,115.2 1118.4,112.4 1119.7,109.3 1121.0,106.1 1122.4,103.0 1123.7,100.4 1125.0,98.5 1126.4,97.5 1127.7,97.6 1129.0,98.7 1130.3,100.8 1131.7,103.5 1133.0,106.7 1134.3,109.9 1135.7,112.9 1137.0,115.6 1138.3,117.8 1139.7,119.6 1141.0,120.9 1142.3,121.8 1143.6,122.5 1145.0,122.9 1146.3,123.1" fill="none" stroke="#d87070" stroke-width="0.6"/>
<rect x="1101.4" y="126.4" width="4.0" height="1.0" fill="#aaa" />
<rect x="1111.4" y="126.4" width="4.0" height="1.0" fill="#aaa" />
<rect x="1122.4" y="126.4" width="4.0" height="1.0" fill="#aaa" />
<rect x="1135.4" y="126.4" width="4.0" height="1.0" fill="#aaa" />
<rect x="1146.4" y="126.4" width="4.0" height="1.0" fill="#aaa" />
<rect x="1170.4" y="91.4" width="8.0" height="1.2" fill="#ccc" />
<rect x="1176.4" y="90.9" width="2.5" height="3.0" fill="#555" />
<rect x="1160.4" y="94.4" width="6.0" height="2.2" fill="#5a5ae8" />
<rect x="1160.4" y="98.2" width="15.0" height="1.2" fill="#8c8c8c" />
<rect x="1160.4" y="101.3" width="15.0" height="1.2" fill="#8c8c8c" />
<rect x="1160.4" y="104.4" width="15.0" height="1.2" fill="#8c8c8c" />
<rect x="1160.4" y="107.5" width="15.0" height="1.2" fill="#8c8c8c" />
<rect x="1160.4" y="110.9" width="6.0" height="2.2" fill="#5a5ae8" />
<rect x="1167.4" y="111.4" width="12.0" height="1.0" fill="#ccc" />
<rect x="1160.4" y="114.9" width="16.0" height="1.2" fill="#8c8c8c" />
<rect x="1160.4" y="118.0" width="16.0" height="1.2" fill="#8c8c8c" />
<rect x="1160.4" y="121.1" width="16.0" height="1.2" fill="#8c8c8c" />
<rect x="1091.4" y="106.4" width="2.5" height="2.0" fill="#aaa" />
<rect x="1192.7" y="83.0" width="50.0" height="1.1" fill="#a8a8f0" />
<rect x="1185.7" y="86.2" width="76.0" height="1.3" fill="#8a8aec" />
<rect x="1186.7" y="90.4" width="56.7" height="33.5" fill="#fff" stroke="#a8a8a8" stroke-width="0.8"/>
<rect x="1199.3" y="115.4" width="4.6" height="8.0" fill="#929cbc" stroke="#f0f0f8" stroke-width="0.35"/>
<rect x="1203.9" y="110.4" width="4.6" height="13.0" fill="#929cbc" stroke="#f0f0f8" stroke-width="0.35"/>
<rect x="1208.5" y="97.4" width="4.6" height="26.0" fill="#929cbc" stroke="#f0f0f8" stroke-width="0.35"/>
<rect x="1213.1" y="110.4" width="4.6" height="13.0" fill="#929cbc" stroke="#f0f0f8" stroke-width="0.35"/>
<rect x="1217.7" y="118.4" width="4.6" height="5.0" fill="#929cbc" stroke="#f0f0f8" stroke-width="0.35"/>
<line x1="1191.7" y1="94.4" x2="1191.7" y2="123.4" stroke="#a0d0a0" stroke-width="0.5" stroke-dasharray="1,1"/>
<line x1="1198.7" y1="94.4" x2="1198.7" y2="123.4" stroke="#e09090" stroke-width="0.5" stroke-dasharray="1,1"/>
<line x1="1230.7" y1="94.4" x2="1230.7" y2="123.4" stroke="#e09090" stroke-width="0.5" stroke-dasharray="1,1"/>
<line x1="1236.7" y1="94.4" x2="1236.7" y2="123.4" stroke="#a0d0a0" stroke-width="0.5" stroke-dasharray="1,1"/>
<polyline points="1194.7,123.2 1196.0,123.1 1197.4,122.8 1198.7,122.4 1200.0,121.7 1201.4,120.7 1202.7,119.3 1204.0,117.5 1205.3,115.2 1206.7,112.4 1208.0,109.3 1209.3,106.1 1210.7,103.0 1212.0,100.4 1213.3,98.5 1214.7,97.5 1216.0,97.6 1217.3,98.7 1218.6,100.8 1220.0,103.5 1221.3,106.7 1222.6,109.9 1224.0,112.9 1225.3,115.6 1226.6,117.8 1228.0,119.6 1229.3,120.9 1230.6,121.8 1231.9,122.5 1233.3,122.9 1234.6,123.1" fill="none" stroke="#d87070" stroke-width="0.6"/>
<rect x="1189.7" y="126.4" width="4.0" height="1.0" fill="#aaa" />
<rect x="1199.7" y="126.4" width="4.0" height="1.0" fill="#aaa" />
<rect x="1210.7" y="126.4" width="4.0" height="1.0" fill="#aaa" />
<rect x="1223.7" y="126.4" width="4.0" height="1.0" fill="#aaa" />
<rect x="1234.7" y="126.4" width="4.0" height="1.0" fill="#aaa" />
<rect x="1258.7" y="91.4" width="8.0" height="1.2" fill="#ccc" />
<rect x="1264.7" y="90.9" width="2.5" height="3.0" fill="#555" />
<rect x="1248.7" y="94.4" width="6.0" height="2.2" fill="#5a5ae8" />
<rect x="1248.7" y="98.2" width="15.0" height="1.2" fill="#8c8c8c" />
<rect x="1248.7" y="101.3" width="15.0" height="1.2" fill="#8c8c8c" />
<rect x="1248.7" y="104.4" width="15.0" height="1.2" fill="#8c8c8c" />
<rect x="1248.7" y="107.5" width="15.0" height="1.2" fill="#8c8c8c" />
<rect x="1248.7" y="110.9" width="6.0" height="2.2" fill="#5a5ae8" />
<rect x="1255.7" y="111.4" width="12.0" height="1.0" fill="#ccc" />
<rect x="1248.7" y="114.9" width="16.0" height="1.2" fill="#8c8c8c" />
<rect x="1248.7" y="118.0" width="16.0" height="1.2" fill="#8c8c8c" />
<rect x="1248.7" y="121.1" width="16.0" height="1.2" fill="#8c8c8c" />
<rect x="1179.7" y="106.4" width="2.5" height="2.0" fill="#aaa" />
<rect x="1015.0" y="130.3" width="50.0" height="1.1" fill="#a8a8f0" />
<rect x="1008.0" y="133.5" width="76.0" height="1.3" fill="#8a8aec" />
<rect x="1009.0" y="137.7" width="56.7" height="33.5" fill="#fff" stroke="#a8a8a8" stroke-width="0.8"/>
<rect x="1021.6" y="165.7" width="4.6" height="5.0" fill="#929cbc" stroke="#f0f0f8" stroke-width="0.35"/>
<rect x="1026.2" y="149.7" width="4.6" height="21.0" fill="#929cbc" stroke="#f0f0f8" stroke-width="0.35"/>
<rect x="1030.8" y="154.7" width="4.6" height="16.0" fill="#929cbc" stroke="#f0f0f8" stroke-width="0.35"/>
<rect x="1035.4" y="157.7" width="4.6" height="13.0" fill="#929cbc" stroke="#f0f0f8" stroke-width="0.35"/>
<rect x="1040.0" y="163.7" width="4.6" height="7.0" fill="#929cbc" stroke="#f0f0f8" stroke-width="0.35"/>
<rect x="1044.6" y="168.7" width="4.6" height="2.0" fill="#929cbc" stroke="#f0f0f8" stroke-width="0.35"/>
<line x1="1014.0" y1="141.7" x2="1014.0" y2="170.7" stroke="#a0d0a0" stroke-width="0.5" stroke-dasharray="1,1"/>
<line x1="1021.0" y1="141.7" x2="1021.0" y2="170.7" stroke="#e09090" stroke-width="0.5" stroke-dasharray="1,1"/>
<line x1="1053.0" y1="141.7" x2="1053.0" y2="170.7" stroke="#e09090" stroke-width="0.5" stroke-dasharray="1,1"/>
<line x1="1059.0" y1="141.7" x2="1059.0" y2="170.7" stroke="#a0d0a0" stroke-width="0.5" stroke-dasharray="1,1"/>
<polyline points="1017.0,170.5 1018.3,170.4 1019.7,170.1 1021.0,169.7 1022.3,169.0 1023.6,168.0 1025.0,166.6 1026.3,164.8 1027.6,162.5 1029.0,159.7 1030.3,156.6 1031.6,153.4 1033.0,150.3 1034.3,147.7 1035.6,145.8 1037.0,144.8 1038.3,144.9 1039.6,146.0 1040.9,148.1 1042.3,150.8 1043.6,154.0 1044.9,157.2 1046.3,160.2 1047.6,162.9 1048.9,165.1 1050.2,166.9 1051.6,168.2 1052.9,169.1 1054.2,169.8 1055.6,170.2 1056.9,170.4" fill="none" stroke="#d87070" stroke-width="0.6"/>
<rect x="1012.0" y="173.7" width="4.0" height="1.0" fill="#aaa" />
<rect x="1022.0" y="173.7" width="4.0" height="1.0" fill="#aaa" />
<rect x="1033.0" y="173.7" width="4.0" height="1.0" fill="#aaa" />
<rect x="1046.0" y="173.7" width="4.0" height="1.0" fill="#aaa" />
<rect x="1057.0" y="173.7" width="4.0" height="1.0" fill="#aaa" />
<rect x="1081.0" y="138.7" width="8.0" height="1.2" fill="#ccc" />
<rect x="1087.0" y="138.2" width="2.5" height="3.0" fill="#555" />
<rect x="1071.0" y="141.7" width="6.0" height="2.2" fill="#5a5ae8" />
<rect x="1071.0" y="145.5" width="15.0" height="1.2" fill="#8c8c8c" />
<rect x="1071.0" y="148.6" width="15.0" height="1.2" fill="#8c8c8c" />
<rect x="1071.0" y="151.7" width="15.0" height="1.2" fill="#8c8c8c" />
<rect x="1071.0" y="154.8" width="15.0" height="1.2" fill="#8c8c8c" />
<rect x="1071.0" y="158.2" width="6.0" height="2.2" fill="#5a5ae8" />
<rect x="1078.0" y="158.7" width="12.0" height="1.0" fill="#ccc" />
<rect x="1071.0" y="162.2" width="16.0" height="1.2" fill="#8c8c8c" />
<rect x="1071.0" y="165.3" width="16.0" height="1.2" fill="#8c8c8c" />
<rect x="1071.0" y="168.4" width="16.0" height="1.2" fill="#8c8c8c" />
<rect x="1002.0" y="153.7" width="2.5" height="2.0" fill="#aaa" />
<rect x="1104.4" y="130.3" width="50.0" height="1.1" fill="#a8a8f0" />
<rect x="1097.4" y="133.5" width="76.0" height="1.3" fill="#8a8aec" />
<rect x="1098.4" y="137.7" width="56.7" height="33.5" fill="#fff" stroke="#a8a8a8" stroke-width="0.8"/>
<rect x="1106.4" y="168.7" width="4.6" height="2.0" fill="#929cbc" stroke="#f0f0f8" stroke-width="0.35"/>
<rect x="1111.0" y="162.7" width="4.6" height="8.0" fill="#929cbc" stroke="#f0f0f8" stroke-width="0.35"/>
<rect x="1115.6" y="158.7" width="4.6" height="12.0" fill="#929cbc" stroke="#f0f0f8" stroke-width="0.35"/>
<rect x="1120.2" y="144.7" width="4.6" height="26.0" fill="#929cbc" stroke="#f0f0f8" stroke-width="0.35"/>
<rect x="1124.8" y="144.7" width="4.6" height="26.0" fill="#929cbc" stroke="#f0f0f8" stroke-width="0.35"/>
<rect x="1129.4" y="156.7" width="4.6" height="14.0" fill="#929cbc" stroke="#f0f0f8" stroke-width="0.35"/>
<rect x="1134.0" y="162.7" width="4.6" height="8.0" fill="#929cbc" stroke="#f0f0f8" stroke-width="0.35"/>
<line x1="1103.4" y1="141.7" x2="1103.4" y2="170.7" stroke="#a0d0a0" stroke-width="0.5" stroke-dasharray="1,1"/>
<line x1="1110.4" y1="141.7" x2="1110.4" y2="170.7" stroke="#e09090" stroke-width="0.5" stroke-dasharray="1,1"/>
<line x1="1142.4" y1="141.7" x2="1142.4" y2="170.7" stroke="#e09090" stroke-width="0.5" stroke-dasharray="1,1"/>
<line x1="1148.4" y1="141.7" x2="1148.4" y2="170.7" stroke="#a0d0a0" stroke-width="0.5" stroke-dasharray="1,1"/>
<polyline points="1106.4,170.5 1107.7,170.4 1109.1,170.1 1110.4,169.7 1111.7,169.0 1113.1,168.0 1114.4,166.6 1115.7,164.8 1117.0,162.5 1118.4,159.7 1119.7,156.6 1121.0,153.4 1122.4,150.3 1123.7,147.7 1125.0,145.8 1126.4,144.8 1127.7,144.9 1129.0,146.0 1130.3,148.1 1131.7,150.8 1133.0,154.0 1134.3,157.2 1135.7,160.2 1137.0,162.9 1138.3,165.1 1139.7,166.9 1141.0,168.2 1142.3,169.1 1143.6,169.8 1145.0,170.2 1146.3,170.4" fill="none" stroke="#d87070" stroke-width="0.6"/>
<rect x="1101.4" y="173.7" width="4.0" height="1.0" fill="#aaa" />
<rect x="1111.4" y="173.7" width="4.0" height="1.0" fill="#aaa" />
<rect x="1122.4" y="173.7" width="4.0" height="1.0" fill="#aaa" />
<rect x="1135.4" y="173.7" width="4.0" height="1.0" fill="#aaa" />
<rect x="1146.4" y="173.7" width="4.0" height="1.0" fill="#aaa" />
<rect x="1170.4" y="138.7" width="8.0" height="1.2" fill="#ccc" />
<rect x="1176.4" y="138.2" width="2.5" height="3.0" fill="#555" />
<rect x="1160.4" y="141.7" width="6.0" height="2.2" fill="#5a5ae8" />
<rect x="1160.4" y="145.5" width="15.0" height="1.2" fill="#8c8c8c" />
<rect x="1160.4" y="148.6" width="15.0" height="1.2" fill="#8c8c8c" />
<rect x="1160.4" y="151.7" width="15.0" height="1.2" fill="#8c8c8c" />
<rect x="1160.4" y="154.8" width="15.0" height="1.2" fill="#8c8c8c" />
<rect x="1160.4" y="158.2" width="6.0" height="2.2" fill="#5a5ae8" />
<rect x="1167.4" y="158.7" width="12.0" height="1.0" fill="#ccc" />
<rect x="1160.4" y="162.2" width="16.0" height="1.2" fill="#8c8c8c" />
<rect x="1160.4" y="165.3" width="16.0" height="1.2" fill="#8c8c8c" />
<rect x="1160.4" y="168.4" width="16.0" height="1.2" fill="#8c8c8c" />
<rect x="1091.4" y="153.7" width="2.5" height="2.0" fill="#aaa" />
<rect x="1192.7" y="130.3" width="50.0" height="1.1" fill="#a8a8f0" />
<rect x="1185.7" y="133.5" width="76.0" height="1.3" fill="#8a8aec" />
<rect x="1186.7" y="137.7" width="56.7" height="33.5" fill="#fff" stroke="#a8a8a8" stroke-width="0.8"/>
<rect x="1194.7" y="165.7" width="4.6" height="5.0" fill="#929cbc" stroke="#f0f0f8" stroke-width="0.35"/>
<rect x="1199.3" y="162.7" width="4.6" height="8.0" fill="#929cbc" stroke="#f0f0f8" stroke-width="0.35"/>
<rect x="1203.9" y="151.7" width="4.6" height="19.0" fill="#929cbc" stroke="#f0f0f8" stroke-width="0.35"/>
<rect x="1208.5" y="161.7" width="4.6" height="9.0" fill="#929cbc" stroke="#f0f0f8" stroke-width="0.35"/>
<rect x="1213.1" y="144.7" width="4.6" height="26.0" fill="#929cbc" stroke="#f0f0f8" stroke-width="0.35"/>
<rect x="1217.7" y="148.7" width="4.6" height="22.0" fill="#929cbc" stroke="#f0f0f8" stroke-width="0.35"/>
<rect x="1222.3" y="161.7" width="4.6" height="9.0" fill="#929cbc" stroke="#f0f0f8" stroke-width="0.35"/>
<line x1="1191.7" y1="141.7" x2="1191.7" y2="170.7" stroke="#a0d0a0" stroke-width="0.5" stroke-dasharray="1,1"/>
<line x1="1198.7" y1="141.7" x2="1198.7" y2="170.7" stroke="#e09090" stroke-width="0.5" stroke-dasharray="1,1"/>
<line x1="1230.7" y1="141.7" x2="1230.7" y2="170.7" stroke="#e09090" stroke-width="0.5" stroke-dasharray="1,1"/>
<line x1="1236.7" y1="141.7" x2="1236.7" y2="170.7" stroke="#a0d0a0" stroke-width="0.5" stroke-dasharray="1,1"/>
<polyline points="1194.7,170.5 1196.0,170.4 1197.4,170.1 1198.7,169.7 1200.0,169.0 1201.4,168.0 1202.7,166.6 1204.0,164.8 1205.3,162.5 1206.7,159.7 1208.0,156.6 1209.3,153.4 1210.7,150.3 1212.0,147.7 1213.3,145.8 1214.7,144.8 1216.0,144.9 1217.3,146.0 1218.6,148.1 1220.0,150.8 1221.3,154.0 1222.6,157.2 1224.0,160.2 1225.3,162.9 1226.6,165.1 1228.0,166.9 1229.3,168.2 1230.6,169.1 1231.9,169.8 1233.3,170.2 1234.6,170.4" fill="none" stroke="#d87070" stroke-width="0.6"/>
<rect x="1189.7" y="173.7" width="4.0" height="1.0" fill="#aaa" />
<rect x="1199.7" y="173.7" width="4.0" height="1.0" fill="#aaa" />
<rect x="1210.7" y="173.7" width="4.0" height="1.0" fill="#aaa" />
<rect x="1223.7" y="173.7" width="4.0" height="1.0" fill="#aaa" />
<rect x="1234.7" y="173.7" width="4.0" height="1.0" fill="#aaa" />
<rect x="1258.7" y="138.7" width="8.0" height="1.2" fill="#ccc" />
<rect x="1264.7" y="138.2" width="2.5" height="3.0" fill="#555" />
<rect x="1248.7" y="141.7" width="6.0" height="2.2" fill="#5a5ae8" />
<rect x="1248.7" y="145.5" width="15.0" height="1.2" fill="#8c8c8c" />
<rect x="1248.7" y="148.6" width="15.0" height="1.2" fill="#8c8c8c" />
<rect x="1248.7" y="151.7" width="15.0" height="1.2" fill="#8c8c8c" />
<rect x="1248.7" y="154.8" width="15.0" height="1.2" fill="#8c8c8c" />
<rect x="1248.7" y="158.2" width="6.0" height="2.2" fill="#5a5ae8" />
<rect x="1255.7" y="158.7" width="12.0" height="1.0" fill="#ccc" />
<rect x="1248.7" y="162.2" width="16.0" height="1.2" fill="#8c8c8c" />
<rect x="1248.7" y="165.3" width="16.0" height="1.2" fill="#8c8c8c" />
<rect x="1248.7" y="168.4" width="16.0" height="1.2" fill="#8c8c8c" />
<rect x="1179.7" y="153.7" width="2.5" height="2.0" fill="#aaa" />
<rect x="1015.0" y="178.6" width="50.0" height="1.1" fill="#a8a8f0" />
<rect x="1008.0" y="181.8" width="76.0" height="1.3" fill="#8a8aec" />
<rect x="1009.0" y="186.0" width="56.7" height="33.5" fill="#fff" stroke="#a8a8a8" stroke-width="0.8"/>
<rect x="1021.6" y="218.0" width="4.6" height="1.0" fill="#929cbc" stroke="#f0f0f8" stroke-width="0.35"/>
<rect x="1026.2" y="214.0" width="4.6" height="5.0" fill="#929cbc" stroke="#f0f0f8" stroke-width="0.35"/>
<rect x="1030.8" y="187.0" width="4.6" height="32.0" fill="#929cbc" stroke="#f0f0f8" stroke-width="0.35"/>
<rect x="1035.4" y="214.0" width="4.6" height="5.0" fill="#929cbc" stroke="#f0f0f8" stroke-width="0.35"/>
<rect x="1040.0" y="218.0" width="4.6" height="1.0" fill="#929cbc" stroke="#f0f0f8" stroke-width="0.35"/>
<line x1="1014.0" y1="190.0" x2="1014.0" y2="219.0" stroke="#a0d0a0" stroke-width="0.5" stroke-dasharray="1,1"/>
<line x1="1021.0" y1="190.0" x2="1021.0" y2="219.0" stroke="#e09090" stroke-width="0.5" stroke-dasharray="1,1"/>
<line x1="1053.0" y1="190.0" x2="1053.0" y2="219.0" stroke="#e09090" stroke-width="0.5" stroke-dasharray="1,1"/>
<line x1="1059.0" y1="190.0" x2="1059.0" y2="219.0" stroke="#a0d0a0" stroke-width="0.5" stroke-dasharray="1,1"/>
<polyline points="1017.0,218.8 1018.3,218.7 1019.7,218.4 1021.0,218.0 1022.3,217.3 1023.6,216.3 1025.0,214.9 1026.3,213.1 1027.6,210.8 1029.0,208.0 1030.3,204.9 1031.6,201.7 1033.0,198.6 1034.3,196.0 1035.6,194.1 1037.0,193.1 1038.3,193.2 1039.6,194.3 1040.9,196.4 1042.3,199.1 1043.6,202.3 1044.9,205.5 1046.3,208.5 1047.6,211.2 1048.9,213.4 1050.2,215.2 1051.6,216.5 1052.9,217.4 1054.2,218.1 1055.6,218.5 1056.9,218.7" fill="none" stroke="#d87070" stroke-width="0.6"/>
<rect x="1012.0" y="222.0" width="4.0" height="1.0" fill="#aaa" />
<rect x="1022.0" y="222.0" width="4.0" height="1.0" fill="#aaa" />
<rect x="1033.0" y="222.0" width="4.0" height="1.0" fill="#aaa" />
<rect x="1046.0" y="222.0" width="4.0" height="1.0" fill="#aaa" />
<rect x="1057.0" y="222.0" width="4.0" height="1.0" fill="#aaa" />
<rect x="1081.0" y="187.0" width="8.0" height="1.2" fill="#ccc" />
<rect x="1087.0" y="186.5" width="2.5" height="3.0" fill="#555" />
<rect x="1071.0" y="190.0" width="6.0" height="2.2" fill="#5a5ae8" />
<rect x="1071.0" y="193.8" width="15.0" height="1.2" fill="#8c8c8c" />
<rect x="1071.0" y="196.9" width="15.0" height="1.2" fill="#8c8c8c" />
<rect x="1071.0" y="200.0" width="15.0" height="1.2" fill="#8c8c8c" />
<rect x="1071.0" y="203.1" width="15.0" height="1.2" fill="#8c8c8c" />
<rect x="1071.0" y="206.5" width="6.0" height="2.2" fill="#5a5ae8" />
<rect x="1078.0" y="207.0" width="12.0" height="1.0" fill="#ccc" />
<rect x="1071.0" y="210.5" width="16.0" height="1.2" fill="#8c8c8c" />
<rect x="1071.0" y="213.6" width="16.0" height="1.2" fill="#8c8c8c" />
<rect x="1071.0" y="216.7" width="16.0" height="1.2" fill="#8c8c8c" />
<rect x="1002.0" y="202.0" width="2.5" height="2.0" fill="#aaa" />
<rect x="1104.4" y="178.6" width="50.0" height="1.1" fill="#a8a8f0" />
<rect x="1097.4" y="181.8" width="76.0" height="1.3" fill="#8a8aec" />
<rect x="1098.4" y="186.0" width="56.7" height="33.5" fill="#fff" stroke="#a8a8a8" stroke-width="0.8"/>
<rect x="1106.4" y="216.0" width="4.6" height="3.0" fill="#929cbc" stroke="#f0f0f8" stroke-width="0.35"/>
<rect x="1111.0" y="201.0" width="4.6" height="18.0" fill="#929cbc" stroke="#f0f0f8" stroke-width="0.35"/>
<rect x="1115.6" y="193.0" width="4.6" height="26.0" fill="#929cbc" stroke="#f0f0f8" stroke-width="0.35"/>
<rect x="1120.2" y="211.0" width="4.6" height="8.0" fill="#929cbc" stroke="#f0f0f8" stroke-width="0.35"/>
<rect x="1124.8" y="203.0" width="4.6" height="16.0" fill="#929cbc" stroke="#f0f0f8" stroke-width="0.35"/>
<rect x="1129.4" y="213.0" width="4.6" height="6.0" fill="#929cbc" stroke="#f0f0f8" stroke-width="0.35"/>
<rect x="1134.0" y="217.0" width="4.6" height="2.0" fill="#929cbc" stroke="#f0f0f8" stroke-width="0.35"/>
<line x1="1103.4" y1="190.0" x2="1103.4" y2="219.0" stroke="#a0d0a0" stroke-width="0.5" stroke-dasharray="1,1"/>
<line x1="1110.4" y1="190.0" x2="1110.4" y2="219.0" stroke="#e09090" stroke-width="0.5" stroke-dasharray="1,1"/>
<line x1="1142.4" y1="190.0" x2="1142.4" y2="219.0" stroke="#e09090" stroke-width="0.5" stroke-dasharray="1,1"/>
<line x1="1148.4" y1="190.0" x2="1148.4" y2="219.0" stroke="#a0d0a0" stroke-width="0.5" stroke-dasharray="1,1"/>
<polyline points="1106.4,218.8 1107.7,218.7 1109.1,218.4 1110.4,218.0 1111.7,217.3 1113.1,216.3 1114.4,214.9 1115.7,213.1 1117.0,210.8 1118.4,208.0 1119.7,204.9 1121.0,201.7 1122.4,198.6 1123.7,196.0 1125.0,194.1 1126.4,193.1 1127.7,193.2 1129.0,194.3 1130.3,196.4 1131.7,199.1 1133.0,202.3 1134.3,205.5 1135.7,208.5 1137.0,211.2 1138.3,213.4 1139.7,215.2 1141.0,216.5 1142.3,217.4 1143.6,218.1 1145.0,218.5 1146.3,218.7" fill="none" stroke="#d87070" stroke-width="0.6"/>
<rect x="1101.4" y="222.0" width="4.0" height="1.0" fill="#aaa" />
<rect x="1111.4" y="222.0" width="4.0" height="1.0" fill="#aaa" />
<rect x="1122.4" y="222.0" width="4.0" height="1.0" fill="#aaa" />
<rect x="1135.4" y="222.0" width="4.0" height="1.0" fill="#aaa" />
<rect x="1146.4" y="222.0" width="4.0" height="1.0" fill="#aaa" />
<rect x="1170.4" y="187.0" width="8.0" height="1.2" fill="#ccc" />
<rect x="1176.4" y="186.5" width="2.5" height="3.0" fill="#555" />
<rect x="1160.4" y="190.0" width="6.0" height="2.2" fill="#5a5ae8" />
<rect x="1160.4" y="193.8" width="15.0" height="1.2" fill="#8c8c8c" />
<rect x="1160.4" y="196.9" width="15.0" height="1.2" fill="#8c8c8c" />
<rect x="1160.4" y="200.0" width="15.0" height="1.2" fill="#8c8c8c" />
<rect x="1160.4" y="203.1" width="15.0" height="1.2" fill="#8c8c8c" />
<rect x="1160.4" y="206.5" width="6.0" height="2.2" fill="#5a5ae8" />
<rect x="1167.4" y="207.0" width="12.0" height="1.0" fill="#ccc" />
<rect x="1160.4" y="210.5" width="16.0" height="1.2" fill="#8c8c8c" />
<rect x="1160.4" y="213.6" width="16.0" height="1.2" fill="#8c8c8c" />
<rect x="1160.4" y="216.7" width="16.0" height="1.2" fill="#8c8c8c" />
<rect x="1091.4" y="202.0" width="2.5" height="2.0" fill="#aaa" />
<rect x="1192.7" y="178.6" width="50.0" height="1.1" fill="#a8a8f0" />
<rect x="1185.7" y="181.8" width="76.0" height="1.3" fill="#8a8aec" />
<rect x="1186.7" y="186.0" width="56.7" height="33.5" fill="#fff" stroke="#a8a8a8" stroke-width="0.8"/>
<rect x="1194.7" y="218.0" width="4.6" height="1.0" fill="#929cbc" stroke="#f0f0f8" stroke-width="0.35"/>
<rect x="1199.3" y="205.0" width="4.6" height="14.0" fill="#929cbc" stroke="#f0f0f8" stroke-width="0.35"/>
<rect x="1203.9" y="205.0" width="4.6" height="14.0" fill="#929cbc" stroke="#f0f0f8" stroke-width="0.35"/>
<rect x="1208.5" y="191.0" width="4.6" height="28.0" fill="#929cbc" stroke="#f0f0f8" stroke-width="0.35"/>
<rect x="1213.1" y="205.0" width="4.6" height="14.0" fill="#929cbc" stroke="#f0f0f8" stroke-width="0.35"/>
<rect x="1217.7" y="205.0" width="4.6" height="14.0" fill="#929cbc" stroke="#f0f0f8" stroke-width="0.35"/>
<line x1="1191.7" y1="190.0" x2="1191.7" y2="219.0" stroke="#a0d0a0" stroke-width="0.5" stroke-dasharray="1,1"/>
<line x1="1198.7" y1="190.0" x2="1198.7" y2="219.0" stroke="#e09090" stroke-width="0.5" stroke-dasharray="1,1"/>
<line x1="1230.7" y1="190.0" x2="1230.7" y2="219.0" stroke="#e09090" stroke-width="0.5" stroke-dasharray="1,1"/>
<line x1="1236.7" y1="190.0" x2="1236.7" y2="219.0" stroke="#a0d0a0" stroke-width="0.5" stroke-dasharray="1,1"/>
<polyline points="1194.7,218.8 1196.0,218.7 1197.4,218.4 1198.7,218.0 1200.0,217.3 1201.4,216.3 1202.7,214.9 1204.0,213.1 1205.3,210.8 1206.7,208.0 1208.0,204.9 1209.3,201.7 1210.7,198.6 1212.0,196.0 1213.3,194.1 1214.7,193.1 1216.0,193.2 1217.3,194.3 1218.6,196.4 1220.0,199.1 1221.3,202.3 1222.6,205.5 1224.0,208.5 1225.3,211.2 1226.6,213.4 1228.0,215.2 1229.3,216.5 1230.6,217.4 1231.9,218.1 1233.3,218.5 1234.6,218.7" fill="none" stroke="#d87070" stroke-width="0.6"/>
<rect x="1189.7" y="222.0" width="4.0" height="1.0" fill="#aaa" />
<rect x="1199.7" y="222.0" width="4.0" height="1.0" fill="#aaa" />
<rect x="1210.7" y="222.0" width="4.0" height="1.0" fill="#aaa" />
<rect x="1223.7" y="222.0" width="4.0" height="1.0" fill="#aaa" />
<rect x="1234.7" y="222.0" width="4.0" height="1.0" fill="#aaa" />
<rect x="1258.7" y="187.0" width="8.0" height="1.2" fill="#ccc" />
<rect x="1264.7" y="186.5" width="2.5" height="3.0" fill="#555" />
<rect x="1248.7" y="190.0" width="6.0" height="2.2" fill="#5a5ae8" />
<rect x="1248.7" y="193.8" width="15.0" height="1.2" fill="#8c8c8c" />
<rect x="1248.7" y="196.9" width="15.0" height="1.2" fill="#8c8c8c" />
<rect x="1248.7" y="200.0" width="15.0" height="1.2" fill="#8c8c8c" />
<rect x="1248.7" y="203.1" width="15.0" height="1.2" fill="#8c8c8c" />
<rect x="1248.7" y="206.5" width="6.0" height="2.2" fill="#5a5ae8" />
<rect x="1255.7" y="207.0" width="12.0" height="1.0" fill="#ccc" />
<rect x="1248.7" y="210.5" width="16.0" height="1.2" fill="#8c8c8c" />
<rect x="1248.7" y="213.6" width="16.0" height="1.2" fill="#8c8c8c" />
<rect x="1248.7" y="216.7" width="16.0" height="1.2" fill="#8c8c8c" />
<rect x="1179.7" y="202.0" width="2.5" height="2.0" fill="#aaa" />
<line x1="999.0" y1="230.5" x2="1270.0" y2="230.5" stroke="#e4e4e4" stroke-width="0.6" />
</svg>
<div class="a" style="left:28px;top:300px;width:1243px;height:159px;background:#1148a2"><div class="ttl" style="top:4px;font-size:21.2px;line-height:26px;color:#fff;letter-spacing:0.6px;padding-left:0.6px">益普EAP设备管理系统</div><div class="a" style="left:5px;right:5px;top:88.5px;height:2px;background:repeating-linear-gradient(90deg,#a9b9da 0 3px,transparent 3px 8px)"></div></div>
<div class="wb eap1" style="left:43px;width:149px">设备台账</div>
<div class="wb eap1" style="left:209px;width:150px">设备状态监控</div>
<div class="wb eap1" style="left:376.5px;width:149.5px">RMS程序管理</div>
<div class="wb eap1" style="left:542.5px;width:149.5px">PMS参数管理</div>
<div class="wb eap1" style="left:708.5px;width:149px">ALMS报警管理</div>
<div class="wb eap1" style="left:874px;width:185.5px">MAPPING管理</div>
<div class="wb eap1" style="left:1076px;width:185px">MAPPING管理</div>
<div class="wb eap2" style="left:47px;width:278px">FTP Service</div>
<div class="wb eap2" style="left:360px;width:293.5px">JDBC Service</div>
<div class="wb eap2" style="left:688px;width:280.5px">SECS Service</div>
<div class="wb eap2" style="left:1000px;width:230px">OPC Service</div>
<div class="box" style="left:28px;top:494.5px;width:1243.5px;height:156.5px"><div class="ttl" style="top:4.5px;font-size:20.5px;line-height:24px;letter-spacing:1.3px;padding-left:1.3px">益普IOT-HUB平台</div></div>
<div class="dl" style="left:63.5px;top:535px;width:204.5px;height:29.5px;font-size:15.5px;line-height:30.5px">系统配置</div>
<div class="dl" style="left:63.5px;top:573.5px;width:204.5px;height:29.5px;font-size:15.5px;line-height:30.5px">外部接口管理</div>
<div class="dl" style="left:63.5px;top:612px;width:204.5px;height:29px;font-size:15.5px;line-height:30px">监控引擎</div>
<div class="dl" style="left:301px;top:535px;width:208.5px;height:29.5px;font-size:15.5px;line-height:30.5px">边缘数据接入配置</div>
<div class="dl" style="left:301px;top:573.5px;width:208.5px;height:29.5px;font-size:15.5px;line-height:30.5px">数据存储管理</div>
<div class="dl" style="left:301px;top:612px;width:208.5px;height:29px;font-size:15.5px;line-height:30px">安全架构</div>
<div class="dl" style="left:542.5px;top:535px;width:203.5px;height:29.5px;font-size:15.5px;line-height:30.5px">设备建模</div>
<div class="dl" style="left:542.5px;top:573.5px;width:203.5px;height:29.5px;font-size:15.5px;line-height:30.5px">数据压缩组件</div>
<div class="dl" style="left:542.5px;top:612px;width:203.5px;height:29px;font-size:15.5px;line-height:30px">日志控制</div>
<div class="dl" style="left:779px;top:535px;width:206px;height:29.5px;font-size:15.5px;line-height:30.5px">设备数据建模</div>
<div class="dl" style="left:779px;top:573.5px;width:206px;height:29.5px;font-size:15.5px;line-height:30.5px">数据加密组件</div>
<div class="dl" style="left:779px;top:612px;width:206px;height:29px;font-size:15.5px;line-height:30px">消息引擎</div>
<div class="dl" style="left:1018.5px;top:535px;width:206.5px;height:29.5px;font-size:15.5px;line-height:30.5px">数据预处理</div>
<div class="dl" style="left:1018.5px;top:573.5px;width:206.5px;height:29.5px;font-size:15.5px;line-height:30.5px">工作流引擎</div>
<div class="dl" style="left:1018.5px;top:612px;width:206.5px;height:29px;font-size:15.5px;line-height:30px">报表组件</div>
<svg width="1300" height="850" style="filter:blur(0.35px)">
<rect x="28.0" y="710.0" width="84.0" height="93.0" fill="#ffffff" />
<rect x="50.0" y="722.0" width="3.0" height="6.0" fill="#dcdcdc" />
<rect x="56.0" y="723.0" width="3.0" height="5.0" fill="#dcdcdc" />
<polygon points="41,734 50,730 60,728 90,726 99,733 99,757 60,757 55,748 44,745" fill="#74ae8c" />
<ellipse cx="94" cy="742" rx="9.5" ry="13.5" fill="#5e9a78" />
<ellipse cx="94" cy="742" rx="6" ry="10" fill="#d8c050" />
<ellipse cx="94" cy="742" rx="3.5" ry="7" fill="#5e9a78" />
<rect x="68.0" y="731.0" width="20.0" height="5.0" fill="#5a4a40" />
<rect x="53.0" y="733.0" width="6.0" height="7.0" fill="#3a4a48" />
<rect x="46.0" y="738.0" width="6.0" height="9.0" fill="#d8b840" />
<rect x="50.0" y="756.0" width="13.0" height="33.0" fill="#6eaa88" />
<rect x="62.0" y="757.0" width="16.0" height="9.0" fill="#8ab8a0" />
<rect x="66.0" y="765.0" width="11.0" height="10.0" fill="#e0b838" />
<rect x="61.0" y="776.0" width="33.0" height="5.0" fill="#d8b040" />
<rect x="62.0" y="781.0" width="30.0" height="4.0" fill="#68a484" />
<polygon points="47,786 94,784 94,797 60,800 47,797" fill="#6aa686" />
<rect x="74.0" y="790.0" width="10.0" height="5.0" fill="#c89a40" />
<rect x="132.5" y="717.0" width="133.0" height="87.0" fill="#ffffff" />
<polygon points="135,737 196,736 196,788 135,790" fill="#f2f2f2" />
<rect x="196.0" y="738.0" width="64.5" height="50.0" fill="#e8e8e8" />
<rect x="175.0" y="722.5" width="28.0" height="14.5" fill="#2a2a2a" />
<rect x="196.6" y="738.0" width="40.0" height="44.3" fill="#1e1e1e" />
<rect x="200.0" y="744.0" width="3.0" height="30.0" fill="#3a3a3a" />
<rect x="206.0" y="746.0" width="18.0" height="32.0" fill="#2a2a2a" />
<rect x="139.5" y="753.0" width="12.7" height="27.0" fill="#444444" />
<rect x="177.0" y="752.0" width="12.7" height="13.0" fill="#5a4a44" />
<rect x="245.5" y="746.6" width="15.0" height="22.0" fill="#303030" />
<rect x="242.0" y="722.0" width="2.5" height="16.0" fill="#b0a080" />
<polygon points="135,788 260.5,786 260.5,802 135,802" fill="#151515" />
<rect x="196.0" y="782.0" width="64.5" height="5.0" fill="#dcdcdc" />
<rect x="297.5" y="706.7" width="119.4" height="89.4" fill="#ffffff" />
<rect x="304.5" y="721.2" width="80.0" height="67.7" fill="#a9a8b6" />
<rect x="321.8" y="725.1" width="40.0" height="16.8" fill="#ececec" />
<rect x="316.2" y="745.2" width="51.0" height="14.6" fill="#d9d9d8" />
<rect x="317.0" y="746.0" width="12.0" height="12.0" fill="#5a5a60" />
<rect x="335.0" y="750.0" width="26.0" height="7.0" fill="#8a8a90" />
<rect x="371.0" y="722.3" width="11.0" height="5.6" fill="#505058" />
<rect x="373.0" y="723.5" width="7.0" height="3.0" fill="#e8e8e8" />
<rect x="372.1" y="765.4" width="9.6" height="21.2" fill="#38383e" />
<rect x="373.0" y="750.0" width="8.0" height="5.0" fill="#888" />
<ellipse cx="378" cy="757" rx="1.5" ry="1.5" fill="#c04040" />
<rect x="387.2" y="725.7" width="25.2" height="14.5" fill="#0e0e0e" />
<rect x="396.0" y="740.0" width="3.0" height="5.0" fill="#555" />
<rect x="386.7" y="744.5" width="23.5" height="2.2" fill="#555" />
<rect x="349.0" y="775.0" width="8.0" height="9.0" fill="#333" />
<ellipse cx="320" cy="790" rx="2.5" ry="1.5" fill="#333" />
<ellipse cx="326" cy="790" rx="2.5" ry="1.5" fill="#333" />
<ellipse cx="347" cy="790" rx="2.5" ry="1.5" fill="#333" />
<ellipse cx="380" cy="790" rx="2.5" ry="1.5" fill="#333" />
<rect x="323.0" y="715.0" width="1.5" height="6.0" fill="#888" />
<rect x="446.5" y="699.7" width="76.0" height="89.3" fill="#ffffff" />
<rect x="451.2" y="758.0" width="64.0" height="24.6" fill="#ededed" />
<rect x="471.8" y="716.0" width="43.5" height="42.0" fill="#e2e4e6" />
<rect x="451.2" y="716.2" width="20.6" height="41.8" fill="#3e4248" />
<rect x="451.2" y="716.2" width="20.6" height="9.0" fill="#5a5e66" />
<rect x="454.0" y="726.8" width="13.0" height="9.4" fill="#c8ccd0" />
<rect x="476.0" y="722.0" width="10.0" height="24.0" fill="#eef0f2" />
<rect x="488.0" y="716.0" width="19.0" height="32.0" fill="#d6d9dc" />
<rect x="488.0" y="748.0" width="19.0" height="10.0" fill="#70767e" />
<rect x="488.5" y="742.0" width="2.0" height="16.0" fill="#2a2e34" />
<rect x="470.0" y="758.0" width="18.0" height="24.0" fill="#f6f6f6" />
<rect x="507.0" y="716.0" width="8.0" height="66.0" fill="#b8bcc0" />
<rect x="454.5" y="705.0" width="1.5" height="11.0" fill="#999" />
<rect x="452.0" y="782.0" width="63.0" height="2.5" fill="#9a9a9a" />
<rect x="582.8" y="711.9" width="72.0" height="77.8" fill="#dcdcd4" />
<rect x="582.8" y="712.0" width="72.0" height="8.0" fill="#e4e4de" />
<rect x="582.8" y="738.0" width="13.0" height="51.7" fill="#cfcfcf" />
<rect x="595.0" y="735.7" width="54.0" height="53.0" fill="#e2e2e2" />
<rect x="595.0" y="750.0" width="54.0" height="2.0" fill="#d0d0d0" />
<rect x="597.6" y="738.4" width="29.0" height="10.6" fill="#222226" />
<rect x="623.0" y="755.8" width="25.4" height="9.1" fill="#74787e" />
<rect x="629.4" y="741.0" width="7.4" height="8.0" fill="#5a86c8" />
<rect x="645.0" y="723.0" width="9.8" height="8.0" fill="#4a7ad0" />
<rect x="626.0" y="722.0" width="19.0" height="13.0" fill="#303034" />
<rect x="629.0" y="724.0" width="7.0" height="8.0" fill="#8a8a90" />
<rect x="601.0" y="726.0" width="12.0" height="9.0" fill="#2a2a2a" />
<rect x="592.0" y="730.0" width="9.0" height="6.0" fill="#f2f2f2" />
<rect x="583.0" y="752.7" width="12.0" height="17.0" fill="#26262a" />
<rect x="583.0" y="740.0" width="12.0" height="3.0" fill="#4a70c0" />
<rect x="649.0" y="735.0" width="6.0" height="53.0" fill="#9a9a9a" />
<rect x="595.0" y="787.0" width="54.0" height="2.7" fill="#555" />
<rect x="612.0" y="727.0" width="4.0" height="8.0" fill="#e8e8e8" />
<rect x="703.4" y="706.7" width="104.0" height="82.7" fill="#ffffff" />
<polygon points="711,735 733.5,729 735,745 733.5,762.6 711,756" fill="#c4cee0" />
<polygon points="713,742 733,738 733,760 713,754" fill="#8a96b0" />
<rect x="725.7" y="747.0" width="66.0" height="38.0" fill="#c8d2e4" />
<rect x="755.9" y="748.0" width="28.0" height="34.7" fill="#a6b4d0" />
<rect x="730.0" y="725.7" width="47.0" height="21.3" fill="#9aa6c0" />
<rect x="740.0" y="729.0" width="26.0" height="15.0" fill="#3a4868" />
<rect x="732.0" y="735.0" width="8.0" height="10.0" fill="#6a7898" />
<rect x="733.5" y="714.5" width="32.5" height="10.0" fill="#dde1e8" />
<rect x="736.0" y="716.0" width="14.0" height="7.0" fill="#4a5670" />
<rect x="752.0" y="716.0" width="12.0" height="7.0" fill="#c0c6d0" />
<rect x="778.0" y="728.5" width="12.5" height="16.2" fill="#6a7a9a" />
<rect x="781.0" y="730.0" width="3.0" height="14.0" fill="#2a3450" />
<polygon points="783.8,749 801.2,753 801.2,758 783.8,758" fill="#b4c0d6" />
<rect x="744.0" y="708.0" width="1.5" height="6.0" fill="#c05050" />
<rect x="745.0" y="738.0" width="6.0" height="5.0" fill="#1a1a2a" />
<rect x="732.0" y="785.0" width="3.0" height="3.0" fill="#889" />
<rect x="776.0" y="782.0" width="3.0" height="3.0" fill="#889" />
<rect x="869.8" y="714.8" width="85.2" height="79.9" fill="#ffffff" />
<rect x="884.0" y="756.6" width="54.0" height="32.8" fill="#e6e2d6" />
<rect x="879.8" y="734.4" width="64.0" height="23.3" fill="#c8c2b0" />
<rect x="880.0" y="742.0" width="8.0" height="14.0" fill="#9a9484" />
<rect x="935.8" y="742.0" width="8.0" height="14.0" fill="#9a9484" />
<rect x="896.8" y="739.7" width="27.5" height="9.5" fill="#2a2a2a" />
<rect x="890.0" y="736.0" width="8.0" height="6.0" fill="#6a665a" />
<rect x="898.9" y="719.5" width="25.0" height="11.1" fill="#dcdcdc" />
<rect x="907.4" y="722.7" width="13.2" height="5.3" fill="#243a6a" />
<rect x="918.0" y="723.0" width="2.5" height="4.0" fill="#d04030" />
<rect x="901.0" y="778.0" width="17.0" height="3.0" fill="#8a8a8a" />
<rect x="921.0" y="766.0" width="6.0" height="4.0" fill="#c05040" />
<rect x="885.0" y="786.0" width="8.0" height="3.5" fill="#333" />
<rect x="929.0" y="786.0" width="8.0" height="3.5" fill="#333" />
<rect x="993.2" y="704.7" width="87.1" height="88.3" fill="#ffffff" />
<rect x="1001.5" y="735.3" width="74.0" height="23.5" fill="#bcb8ac" />
<rect x="994.4" y="744.7" width="7.0" height="6.0" fill="#b0aca0" />
<polygon points="1001,758.8 1076,758.8 1058,772 1018,772" fill="#c8c2b2" />
<rect x="1018.0" y="758.8" width="40.0" height="29.4" fill="#d2cbbb" />
<rect x="1000.3" y="713.0" width="16.0" height="14.6" fill="#2e3c3a" />
<rect x="1018.5" y="715.3" width="39.0" height="21.2" fill="#d6d0c0" />
<ellipse cx="1033.2" cy="724" rx="4.5" ry="8" fill="#a09a70" />
<ellipse cx="1053.2" cy="724" rx="4.5" ry="8" fill="#a09a70" />
<ellipse cx="1021" cy="720" rx="2" ry="2" fill="#c04030" />
<rect x="1013.0" y="740.0" width="4.0" height="35.0" fill="#555552" />
<rect x="1060.0" y="740.0" width="4.0" height="35.0" fill="#555552" />
<rect x="1030.0" y="742.0" width="20.0" height="10.0" fill="#a8a498" />
<rect x="1025.0" y="781.0" width="25.0" height="2.0" fill="#8a8a80" />
<rect x="1036.5" y="707.0" width="1.5" height="8.0" fill="#7aaa7a" />
<rect x="1131.5" y="715.5" width="117.0" height="90.0" fill="#ffffff" />
<polygon points="1155.7,769.6 1202.9,767.3 1202.9,786.9 1155.7,786.9" fill="#5a5a5a" />
<polygon points="1145.3,767.3 1155.7,767.3 1155.7,786.9 1150.5,791.5 1145.3,790.4" fill="#dadada" />
<polygon points="1202.9,765.0 1238.6,750.0 1238.6,776.5 1202.9,799.6" fill="#d8d8d8" />
<polygon points="1166.6,727.0 1217.9,727.0 1217.9,742.0 1166.6,742.0" fill="#dcdcdc" />
<polygon points="1217.9,727.0 1235.2,727.0 1235.2,737.4 1217.9,737.4" fill="#26324a" />
<polygon points="1169.5,741.4 1201.8,741.4 1201.8,750.6 1169.5,750.6" fill="#141414" />
<polygon points="1141.3,746.6 1166.6,739.1 1167.8,741.4 1148.2,748.9 1148.2,761.6 1141.3,760.4" fill="#2a3654" />
<polygon points="1148.2,748.9 1198.3,750.0 1198.3,762.7 1148.2,761.6" fill="#e2e2e2" />
<polygon points="1201.8,745.4 1215.6,741.4 1216.7,746.6 1201.8,750.0" fill="#ececec" />
<polygon points="1198.3,750.0 1206.4,745.4 1239.8,735.0 1239.8,751.2 1206.4,763.9 1198.3,763.9" fill="#2a3654" />
<polygon points="1176.4,721.8 1207.5,721.8 1207.5,739.1 1176.4,739.1" fill="#3a4050" />
<polygon points="1178.1,723.3 1206.1,723.3 1206.1,737.6 1178.1,737.6" fill="#d6def0" />
<polygon points="1142.4,766.2 1190.2,763.3 1191.4,769.6 1142.4,770.2" fill="#3a3a3a" />
<polygon points="1171.8,771.9 1181.0,771.9 1181.0,778.8 1171.8,778.8" fill="#4a2c2c" />
<ellipse cx="1151" cy="792" rx="2.5" ry="1.5" fill="#333" />
<ellipse cx="1206" cy="801" rx="3" ry="1.5" fill="#333" />
<ellipse cx="1223" cy="788" rx="2.5" ry="1.5" fill="#333" />
</svg>
<div class="lbl" style="left:-26px;width:200px;top:807.5px"><span style="letter-spacing:1.2px;padding-left:1.2px">冲压设备</span></div>
<div class="lbl" style="left:103px;width:200px;top:807.5px"><span style="letter-spacing:1.3px;padding-left:1.3px">数控机床</span></div>
<div class="lbl" style="left:241px;width:200px;top:799.5px"><span style="letter-spacing:1.05px;padding-left:1.05px">CP晶圆</span><br><span style="letter-spacing:1.1px;padding-left:1.1px">测试设备</span></div>
<div class="lbl" style="left:384px;width:200px;top:794.5px"><span style="letter-spacing:0.9px;padding-left:0.9px">DS设备</span><br><span style="letter-spacing:0.95px;padding-left:0.95px">DFD6341</span></div>
<div class="lbl" style="left:519px;width:200px;top:796.8px"><span style="letter-spacing:1.4px;padding-left:1.4px">DB设备</span><br><span style="letter-spacing:1.25px;padding-left:1.25px">ASM AD83X</span></div>
<div class="lbl" style="left:658px;width:200px;top:793.5px"><span style="letter-spacing:1.0px;padding-left:1.0px">DB设备</span><br><span style="letter-spacing:0.1px;padding-left:0.1px">BESI ESEC2009Fse</span></div>
<div class="lbl" style="left:811px;width:200px;top:799.5px"><span style="letter-spacing:1.0px;padding-left:1.0px">WB设备</span><br><span style="letter-spacing:0.85px;padding-left:0.85px">KS Connx</span></div>
<div class="lbl" style="left:938px;width:200px;top:797.5px"><span style="letter-spacing:0.8px;padding-left:0.8px">WB设备</span><br><span style="letter-spacing:0.4px;padding-left:0.4px">KS POWER-C</span></div>
<div class="lbl" style="left:1092px;width:200px;top:806.5px"><span style="letter-spacing:1.4px;padding-left:1.4px">先进AOI设备</span></div>
<svg width="1300" height="850"><defs><polygon id="da" points="25,0 50,22.5 33.5,22.5 33.5,38.5 50,38.5 25,60.5 0,38.5 16.5,38.5 16.5,22.5 0,22.5"/></defs><g fill="#1f95f4"><polygon points="595,121 656,121 656,93 703,135 656,177 656,149 595,149"/><polygon points="996.5,242.5 1038,266.5 1011,266.5 1011,296 981.5,296 981.5,266.5 954.5,266.5"/><use href="#da" x="260" y="240"/><use href="#da" x="137.4" y="467"/><use href="#da" x="390" y="467"/><use href="#da" x="849.1" y="467"/><use href="#da" x="1107.4" y="467"/><use href="#da" x="139.3" y="652.5"/><use href="#da" x="392.1" y="652.5"/><use href="#da" x="850.9" y="652.5"/><use href="#da" x="1109.4" y="652.5"/></g></svg>
</body></html>
